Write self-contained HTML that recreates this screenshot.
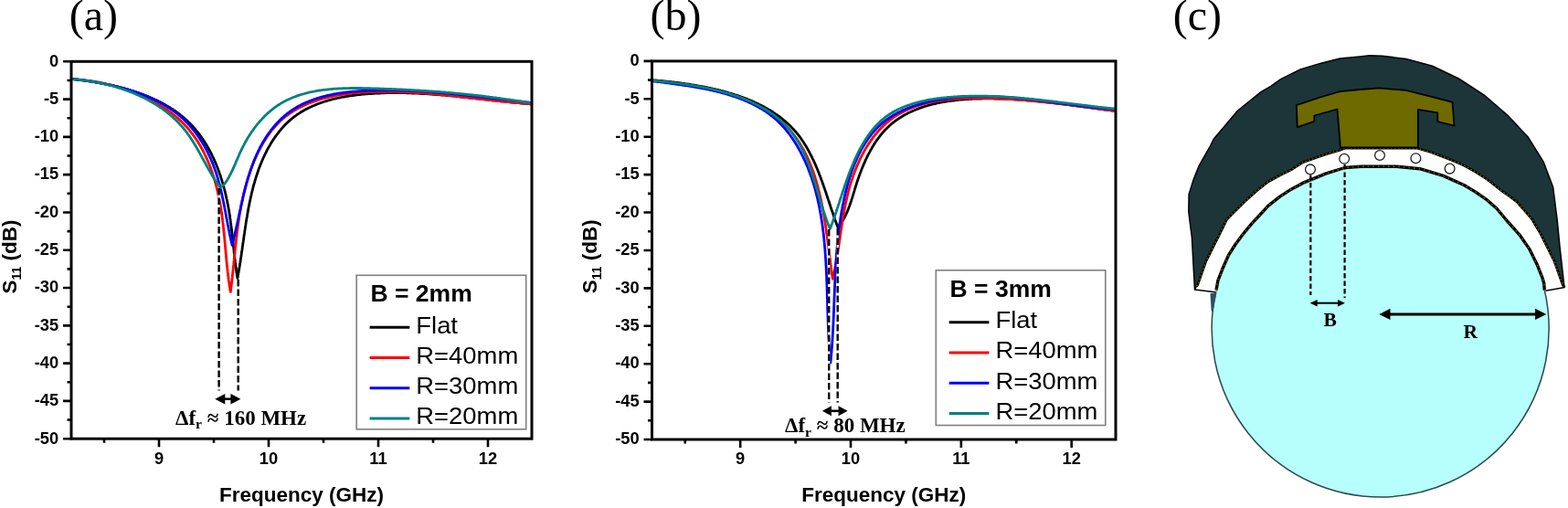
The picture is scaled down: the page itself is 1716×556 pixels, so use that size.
<!DOCTYPE html>
<html><head><meta charset="utf-8"><title>S11 curves</title>
<style>html,body{margin:0;padding:0;background:#fff;}body{width:1716px;height:556px;overflow:hidden;}svg{display:block;}</style>
</head><body>
<svg width="1716" height="556" viewBox="0 0 1716 556">
<rect width="1716" height="556" fill="#fff"/>
<g font-family='"Liberation Serif", "Times New Roman", serif' font-size="48" fill="#000"><text x="75.8" y="33">(a)</text><text x="711.6" y="33">(b)</text><text x="1283.7" y="33">(c)</text></g>
<clipPath id="clipa"><rect x="78.0" y="67.3" width="504.0" height="412.9"/></clipPath>
<g clip-path="url(#clipa)" fill="none" stroke-width="2.8" stroke-linejoin="round" stroke-linecap="round">
<path stroke="#000000" d="M78.0 86.5 L79.0 86.6 L80.0 86.7 L81.0 86.8 L82.0 86.9 L83.1 87.0 L84.1 87.1 L85.1 87.3 L86.2 87.4 L87.2 87.5 L88.2 87.6 L89.3 87.8 L90.3 87.9 L91.3 88.0 L92.4 88.2 L93.4 88.3 L94.5 88.5 L95.5 88.6 L96.6 88.7 L97.6 88.9 L98.7 89.1 L99.8 89.2 L100.8 89.4 L101.9 89.6 L103.0 89.7 L104.0 89.9 L105.1 90.1 L106.2 90.3 L107.2 90.4 L108.3 90.6 L109.4 90.8 L110.4 91.0 L111.5 91.2 L112.6 91.4 L113.7 91.6 L114.7 91.8 L115.8 92.1 L116.9 92.3 L118.0 92.5 L119.1 92.7 L120.1 93.0 L121.2 93.2 L122.3 93.4 L123.4 93.7 L124.5 93.9 L125.5 94.2 L126.6 94.4 L127.7 94.7 L128.8 94.9 L129.8 95.2 L130.9 95.5 L132.0 95.8 L133.1 96.0 L134.1 96.3 L135.2 96.6 L136.3 96.9 L137.3 97.2 L138.4 97.5 L139.5 97.8 L140.5 98.1 L141.6 98.4 L142.7 98.8 L143.7 99.1 L144.8 99.4 L145.8 99.8 L146.9 100.1 L148.0 100.5 L149.0 100.8 L150.1 101.2 L151.1 101.5 L152.1 101.9 L153.2 102.3 L154.2 102.6 L155.3 103.0 L156.3 103.4 L157.3 103.8 L158.3 104.2 L159.4 104.6 L160.4 105.0 L161.4 105.4 L162.4 105.8 L163.4 106.2 L164.4 106.7 L165.4 107.1 L166.4 107.6 L167.4 108.0 L168.4 108.4 L169.4 108.9 L170.4 109.4 L171.4 109.8 L172.4 110.3 L173.3 110.8 L174.3 111.3 L175.3 111.8 L176.2 112.3 L177.2 112.8 L178.1 113.3 L179.1 113.8 L180.0 114.3 L181.0 114.8 L181.9 115.4 L182.8 115.9 L183.7 116.4 L184.7 117.0 L185.6 117.5 L186.5 118.1 L187.4 118.7 L188.3 119.3 L189.2 119.8 L190.0 120.4 L190.9 121.0 L191.8 121.6 L192.6 122.2 L193.5 122.8 L194.4 123.5 L195.2 124.1 L196.0 124.7 L196.9 125.4 L197.7 126.0 L198.5 126.7 L199.3 127.3 L200.1 128.0 L200.9 128.7 L201.7 129.3 L202.5 130.0 L203.3 130.7 L204.1 131.4 L204.8 132.1 L205.6 132.9 L206.3 133.6 L207.1 134.3 L207.8 135.0 L208.5 135.8 L209.3 136.5 L210.0 137.3 L210.7 138.0 L211.4 138.8 L212.1 139.6 L212.8 140.4 L213.4 141.2 L214.1 142.0 L214.8 142.7 L215.4 143.6 L216.1 144.4 L216.7 145.2 L217.4 146.0 L218.0 146.8 L218.6 147.7 L219.2 148.5 L219.8 149.3 L220.5 150.2 L221.1 151.1 L221.6 151.9 L222.2 152.8 L222.8 153.7 L223.4 154.5 L224.0 155.4 L224.5 156.3 L225.1 157.2 L225.6 158.1 L226.2 159.0 L226.7 159.9 L227.2 160.8 L227.7 161.7 L228.3 162.6 L228.8 163.6 L229.3 164.5 L229.8 165.4 L230.3 166.4 L230.8 167.3 L231.2 168.3 L231.7 169.2 L232.2 170.2 L232.6 171.1 L233.1 172.1 L233.6 173.1 L234.0 174.0 L234.4 175.0 L234.9 176.0 L235.3 177.0 L235.7 178.0 L236.2 178.9 L236.6 179.9 L237.0 180.9 L237.4 181.9 L237.8 182.9 L238.2 183.9 L238.6 185.0 L238.9 186.0 L239.3 187.0 L239.7 188.0 L240.0 189.0 L240.4 190.1 L240.8 191.1 L241.1 192.1 L241.5 193.2 L241.8 194.2 L242.1 195.2 L242.5 196.3 L242.8 197.3 L243.1 198.4 L243.4 199.4 L243.7 200.5 L244.0 201.5 L244.3 202.6 L244.6 203.6 L244.9 204.7 L245.2 205.8 L245.5 206.8 L245.8 207.9 L246.0 208.9 L246.3 210.0 L246.6 211.1 L246.8 212.2 L247.1 213.2 L247.3 214.3 L247.6 215.4 L247.8 216.5 L248.0 217.5 L248.3 218.6 L248.5 219.7 L248.7 220.8 L248.9 221.9 L249.2 223.0 L249.4 224.1 L249.6 225.1 L249.8 226.2 L250.0 227.3 L250.2 228.4 L250.4 229.5 L250.5 230.6 L250.7 231.7 L250.9 232.8 L251.1 233.9 L251.3 235.0 L251.4 236.1 L251.6 237.1 L251.7 238.2 L251.9 239.3 L252.1 240.4 L252.2 241.5 L252.4 242.6 L252.5 243.7 L252.7 244.8 L252.8 245.9 L252.9 247.0 L253.1 248.1 L253.2 249.2 L253.4 250.3 L253.5 251.4 L253.6 252.5 L253.7 253.6 L253.9 254.7 L254.0 255.7 L254.1 256.8 L254.2 257.9 L254.4 259.0 L254.5 260.1 L254.6 261.2 L254.7 262.3 L254.8 263.4 L255.0 264.5 L255.1 265.5 L255.2 266.6 L255.3 267.7 L255.4 268.8 L255.5 269.9 L255.7 271.0 L255.8 272.0 L255.9 273.1 L256.0 274.2 L256.1 275.3 L256.2 276.3 L256.3 277.4 L256.5 278.5 L256.6 279.5 L256.7 280.6 L256.8 281.7 L256.9 282.7 L257.1 283.8 L257.2 284.9 L257.3 285.9 L257.4 287.0 L257.6 288.0 L257.7 289.1 L257.8 290.1 L258.0 291.2 L258.1 292.2 L258.2 293.3 L258.4 294.3 L258.5 295.4 L258.7 296.4 L258.8 297.4 L258.9 298.5 L259.1 299.5 L259.3 300.5 L259.4 301.5 L259.6 302.6 L259.7 303.6 L259.9 304.6 L260.2 303.2 L260.4 301.8 L260.7 300.3 L260.9 298.9 L261.2 297.5 L261.4 296.0 L261.7 294.6 L261.9 293.1 L262.2 291.7 L262.4 290.2 L262.6 288.7 L262.9 287.3 L263.1 285.8 L263.3 284.3 L263.5 282.8 L263.8 281.3 L264.0 279.8 L264.2 278.3 L264.4 276.8 L264.6 275.3 L264.9 273.8 L265.1 272.3 L265.3 270.8 L265.5 269.2 L265.7 267.7 L265.9 266.2 L266.2 264.7 L266.4 263.1 L266.6 261.6 L266.8 260.1 L267.0 258.5 L267.2 257.0 L267.5 255.5 L267.7 253.9 L267.9 252.4 L268.2 250.8 L268.4 249.3 L268.6 247.7 L268.9 246.2 L269.1 244.6 L269.3 243.1 L269.6 241.6 L269.8 240.0 L270.1 238.5 L270.4 236.9 L270.6 235.4 L270.9 233.8 L271.2 232.3 L271.4 230.7 L271.7 229.2 L272.0 227.6 L272.3 226.1 L272.6 224.5 L272.9 223.0 L273.2 221.5 L273.6 219.9 L273.9 218.4 L274.2 216.9 L274.5 215.3 L274.9 213.8 L275.2 212.3 L275.6 210.7 L276.0 209.2 L276.4 207.7 L276.7 206.2 L277.1 204.7 L277.5 203.2 L277.9 201.7 L278.4 200.2 L278.8 198.7 L279.2 197.2 L279.7 195.7 L280.1 194.2 L280.6 192.7 L281.1 191.2 L281.6 189.8 L282.1 188.3 L282.6 186.8 L283.1 185.4 L283.6 183.9 L284.2 182.5 L284.7 181.0 L285.3 179.6 L285.9 178.2 L286.5 176.7 L287.1 175.3 L287.7 173.9 L288.3 172.5 L289.0 171.1 L289.6 169.7 L290.3 168.3 L291.0 167.0 L291.7 165.6 L292.4 164.2 L293.1 162.9 L293.8 161.5 L294.6 160.2 L295.4 158.9 L296.1 157.6 L296.9 156.3 L297.7 155.0 L298.5 153.7 L299.4 152.4 L300.2 151.2 L301.1 149.9 L302.0 148.7 L302.8 147.5 L303.8 146.3 L304.7 145.1 L305.6 143.9 L306.5 142.8 L307.5 141.6 L308.5 140.5 L309.5 139.4 L310.5 138.3 L311.5 137.2 L312.5 136.1 L313.6 135.1 L314.6 134.1 L315.7 133.1 L316.8 132.1 L317.9 131.1 L319.0 130.2 L320.2 129.2 L321.3 128.3 L322.5 127.4 L323.7 126.6 L324.9 125.7 L326.1 124.9 L327.3 124.1 L328.5 123.3 L329.8 122.5 L331.0 121.8 L332.3 121.0 L333.6 120.3 L334.9 119.6 L336.2 118.9 L337.5 118.2 L338.9 117.6 L340.2 117.0 L341.6 116.3 L342.9 115.7 L344.3 115.2 L345.7 114.6 L347.1 114.0 L348.5 113.5 L349.9 113.0 L351.3 112.5 L352.8 112.0 L354.2 111.5 L355.7 111.0 L357.1 110.6 L358.6 110.2 L360.0 109.7 L361.5 109.3 L363.0 108.9 L364.5 108.5 L366.0 108.2 L367.5 107.8 L369.0 107.5 L370.5 107.2 L372.1 106.8 L373.6 106.5 L375.1 106.2 L376.6 106.0 L378.2 105.7 L379.7 105.4 L381.3 105.2 L382.8 104.9 L384.4 104.7 L385.9 104.5 L387.5 104.3 L389.1 104.1 L390.6 103.9 L392.2 103.7 L393.8 103.5 L395.3 103.4 L396.9 103.2 L398.5 103.1 L400.0 102.9 L401.6 102.8 L403.2 102.7 L404.7 102.6 L406.3 102.5 L407.9 102.4 L409.4 102.3 L411.0 102.2 L412.6 102.1 L414.1 102.0 L415.7 102.0 L417.3 101.9 L418.8 101.8 L420.4 101.8 L421.9 101.7 L423.5 101.7 L425.0 101.7 L426.6 101.7 L428.1 101.6 L429.7 101.6 L431.2 101.6 L432.8 101.6 L434.3 101.6 L435.9 101.6 L437.4 101.6 L439.0 101.7 L440.5 101.7 L442.0 101.7 L443.6 101.7 L445.1 101.8 L446.6 101.8 L448.2 101.9 L449.7 101.9 L451.2 102.0 L452.8 102.0 L454.3 102.1 L455.8 102.2 L457.4 102.2 L458.9 102.3 L460.4 102.4 L461.9 102.5 L463.5 102.5 L465.0 102.6 L466.5 102.7 L468.0 102.8 L469.6 102.9 L471.1 103.0 L472.6 103.1 L474.1 103.3 L475.6 103.4 L477.2 103.5 L478.7 103.6 L480.2 103.7 L481.7 103.9 L483.2 104.0 L484.7 104.1 L486.3 104.2 L487.8 104.4 L489.3 104.5 L490.8 104.7 L492.3 104.8 L493.8 104.9 L495.3 105.1 L496.9 105.2 L498.4 105.4 L499.9 105.5 L501.4 105.7 L502.9 105.8 L504.4 106.0 L505.9 106.2 L507.4 106.3 L509.0 106.5 L510.5 106.6 L512.0 106.8 L513.5 107.0 L515.0 107.1 L516.5 107.3 L518.0 107.4 L519.5 107.6 L521.1 107.8 L522.6 107.9 L524.1 108.1 L525.6 108.3 L527.1 108.4 L528.6 108.6 L530.1 108.8 L531.7 108.9 L533.2 109.1 L534.7 109.3 L536.2 109.4 L537.7 109.6 L539.2 109.8 L540.8 109.9 L542.3 110.1 L543.8 110.3 L545.3 110.4 L546.8 110.6 L548.3 110.8 L549.9 110.9 L551.4 111.1 L552.9 111.2 L554.4 111.4 L556.0 111.6 L557.5 111.7 L559.0 111.9 L560.5 112.0 L562.1 112.2 L563.6 112.3 L565.1 112.5 L566.6 112.6 L568.2 112.7 L569.7 112.9 L571.2 113.0 L572.8 113.1 L574.3 113.3 L575.8 113.4 L577.4 113.5 L578.9 113.7 L580.5 113.8 L582.0 113.9"/>
<path stroke="#ff0000" d="M78.0 86.5 L79.1 86.6 L80.1 86.6 L81.2 86.7 L82.3 86.8 L83.4 86.9 L84.4 86.9 L85.5 87.0 L86.6 87.1 L87.7 87.2 L88.8 87.3 L89.8 87.5 L90.9 87.6 L92.0 87.7 L93.1 87.8 L94.2 88.0 L95.3 88.1 L96.4 88.3 L97.5 88.4 L98.6 88.6 L99.7 88.7 L100.8 88.9 L101.9 89.1 L103.0 89.2 L104.1 89.4 L105.2 89.6 L106.3 89.8 L107.4 90.0 L108.5 90.2 L109.6 90.4 L110.7 90.7 L111.8 90.9 L112.9 91.1 L113.9 91.3 L115.0 91.6 L116.1 91.8 L117.2 92.1 L118.3 92.3 L119.4 92.6 L120.5 92.9 L121.6 93.1 L122.7 93.4 L123.8 93.7 L124.9 94.0 L126.0 94.3 L127.1 94.6 L128.2 94.9 L129.3 95.2 L130.3 95.5 L131.4 95.8 L132.5 96.2 L133.6 96.5 L134.7 96.8 L135.7 97.2 L136.8 97.5 L137.9 97.9 L138.9 98.2 L140.0 98.6 L141.1 99.0 L142.1 99.4 L143.2 99.8 L144.3 100.2 L145.3 100.5 L146.4 101.0 L147.4 101.4 L148.5 101.8 L149.5 102.2 L150.6 102.6 L151.6 103.1 L152.6 103.5 L153.7 103.9 L154.7 104.4 L155.7 104.8 L156.7 105.3 L157.7 105.8 L158.8 106.2 L159.8 106.7 L160.8 107.2 L161.8 107.7 L162.8 108.2 L163.8 108.7 L164.8 109.2 L165.8 109.7 L166.7 110.2 L167.7 110.8 L168.7 111.3 L169.7 111.8 L170.6 112.4 L171.6 112.9 L172.5 113.5 L173.5 114.1 L174.4 114.6 L175.4 115.2 L176.3 115.8 L177.2 116.4 L178.2 117.0 L179.1 117.6 L180.0 118.2 L180.9 118.8 L181.8 119.4 L182.7 120.0 L183.6 120.7 L184.5 121.3 L185.4 121.9 L186.2 122.6 L187.1 123.2 L188.0 123.9 L188.8 124.6 L189.7 125.2 L190.5 125.9 L191.3 126.6 L192.2 127.3 L193.0 128.0 L193.8 128.7 L194.6 129.4 L195.4 130.1 L196.2 130.9 L197.0 131.6 L197.8 132.3 L198.6 133.1 L199.3 133.8 L200.1 134.6 L200.8 135.3 L201.6 136.1 L202.3 136.9 L203.1 137.7 L203.8 138.4 L204.5 139.2 L205.2 140.0 L205.9 140.8 L206.6 141.7 L207.3 142.5 L207.9 143.3 L208.6 144.1 L209.3 145.0 L209.9 145.8 L210.6 146.7 L211.2 147.5 L211.8 148.4 L212.5 149.2 L213.1 150.1 L213.7 151.0 L214.3 151.9 L214.9 152.7 L215.5 153.6 L216.1 154.5 L216.6 155.4 L217.2 156.3 L217.7 157.3 L218.3 158.2 L218.8 159.1 L219.4 160.0 L219.9 161.0 L220.4 161.9 L221.0 162.8 L221.5 163.8 L222.0 164.7 L222.5 165.7 L223.0 166.7 L223.5 167.6 L223.9 168.6 L224.4 169.6 L224.9 170.5 L225.3 171.5 L225.8 172.5 L226.2 173.5 L226.7 174.5 L227.1 175.5 L227.5 176.5 L228.0 177.5 L228.4 178.5 L228.8 179.5 L229.2 180.5 L229.6 181.6 L230.0 182.6 L230.4 183.6 L230.8 184.7 L231.1 185.7 L231.5 186.7 L231.9 187.8 L232.2 188.8 L232.6 189.9 L232.9 190.9 L233.3 192.0 L233.6 193.0 L233.9 194.1 L234.3 195.1 L234.6 196.2 L234.9 197.3 L235.2 198.3 L235.5 199.4 L235.8 200.5 L236.1 201.6 L236.4 202.6 L236.7 203.7 L237.0 204.8 L237.2 205.9 L237.5 207.0 L237.8 208.1 L238.0 209.2 L238.3 210.3 L238.5 211.4 L238.8 212.5 L239.0 213.6 L239.3 214.7 L239.5 215.8 L239.7 216.9 L239.9 218.0 L240.2 219.1 L240.4 220.2 L240.6 221.3 L240.8 222.4 L241.0 223.5 L241.2 224.6 L241.4 225.8 L241.6 226.9 L241.7 228.0 L241.9 229.1 L242.1 230.2 L242.3 231.3 L242.4 232.5 L242.6 233.6 L242.8 234.7 L242.9 235.8 L243.1 236.9 L243.2 238.1 L243.4 239.2 L243.5 240.3 L243.6 241.4 L243.8 242.6 L243.9 243.7 L244.1 244.8 L244.2 246.0 L244.3 247.1 L244.4 248.2 L244.6 249.3 L244.7 250.5 L244.8 251.6 L244.9 252.7 L245.0 253.8 L245.1 255.0 L245.3 256.1 L245.4 257.2 L245.5 258.3 L245.6 259.5 L245.7 260.6 L245.8 261.7 L245.9 262.8 L246.0 264.0 L246.1 265.1 L246.2 266.2 L246.3 267.3 L246.4 268.5 L246.5 269.6 L246.6 270.7 L246.7 271.8 L246.8 272.9 L246.9 274.0 L247.0 275.2 L247.1 276.3 L247.2 277.4 L247.3 278.5 L247.4 279.6 L247.5 280.7 L247.6 281.8 L247.7 282.9 L247.8 284.0 L247.9 285.2 L248.0 286.3 L248.1 287.4 L248.2 288.5 L248.3 289.6 L248.4 290.7 L248.5 291.8 L248.7 292.8 L248.8 293.9 L248.9 295.0 L249.0 296.1 L249.1 297.2 L249.3 298.3 L249.4 299.4 L249.5 300.5 L249.6 301.5 L249.8 302.6 L249.9 303.7 L250.0 304.8 L250.2 305.8 L250.3 306.9 L250.5 308.0 L250.6 309.0 L250.8 310.1 L250.9 311.1 L251.1 312.2 L251.2 313.2 L251.4 314.3 L251.6 315.3 L251.8 316.4 L251.9 317.4 L252.1 318.5 L252.3 319.5 L252.5 318.0 L252.7 316.4 L252.9 314.9 L253.1 313.3 L253.3 311.8 L253.5 310.2 L253.6 308.6 L253.8 307.1 L254.0 305.5 L254.2 303.9 L254.3 302.4 L254.5 300.8 L254.7 299.2 L254.9 297.6 L255.0 296.0 L255.2 294.4 L255.3 292.9 L255.5 291.3 L255.7 289.7 L255.8 288.1 L256.0 286.5 L256.2 284.9 L256.3 283.3 L256.5 281.7 L256.6 280.1 L256.8 278.5 L257.0 276.9 L257.1 275.2 L257.3 273.6 L257.5 272.0 L257.6 270.4 L257.8 268.8 L258.0 267.2 L258.2 265.6 L258.3 264.0 L258.5 262.3 L258.7 260.7 L258.9 259.1 L259.1 257.5 L259.3 255.9 L259.5 254.3 L259.7 252.6 L259.9 251.0 L260.1 249.4 L260.3 247.8 L260.5 246.2 L260.8 244.5 L261.0 242.9 L261.2 241.3 L261.5 239.7 L261.7 238.1 L262.0 236.5 L262.2 234.8 L262.5 233.2 L262.8 231.6 L263.1 230.0 L263.3 228.4 L263.6 226.8 L263.9 225.2 L264.2 223.6 L264.6 222.0 L264.9 220.4 L265.2 218.8 L265.6 217.2 L265.9 215.6 L266.3 214.0 L266.6 212.4 L267.0 210.8 L267.4 209.2 L267.8 207.6 L268.2 206.0 L268.6 204.4 L269.0 202.9 L269.5 201.3 L269.9 199.7 L270.4 198.1 L270.8 196.6 L271.3 195.0 L271.8 193.4 L272.3 191.9 L272.8 190.3 L273.3 188.8 L273.9 187.2 L274.4 185.7 L275.0 184.1 L275.6 182.6 L276.2 181.1 L276.8 179.5 L277.4 178.0 L278.0 176.5 L278.6 175.0 L279.3 173.5 L280.0 172.0 L280.6 170.5 L281.3 169.0 L282.0 167.5 L282.8 166.1 L283.5 164.6 L284.2 163.1 L285.0 161.7 L285.8 160.3 L286.6 158.9 L287.4 157.5 L288.2 156.1 L289.0 154.7 L289.9 153.3 L290.8 152.0 L291.6 150.6 L292.5 149.3 L293.5 148.0 L294.4 146.7 L295.3 145.4 L296.3 144.2 L297.2 142.9 L298.2 141.7 L299.2 140.5 L300.3 139.3 L301.3 138.1 L302.4 137.0 L303.4 135.8 L304.5 134.7 L305.6 133.6 L306.7 132.5 L307.9 131.5 L309.0 130.5 L310.2 129.5 L311.4 128.5 L312.6 127.5 L313.8 126.6 L315.0 125.7 L316.3 124.8 L317.5 123.9 L318.8 123.0 L320.1 122.2 L321.4 121.4 L322.7 120.6 L324.0 119.8 L325.4 119.0 L326.7 118.3 L328.1 117.6 L329.5 116.9 L330.9 116.2 L332.3 115.5 L333.7 114.9 L335.1 114.2 L336.6 113.6 L338.0 113.0 L339.5 112.5 L341.0 111.9 L342.4 111.3 L343.9 110.8 L345.4 110.3 L346.9 109.8 L348.5 109.3 L350.0 108.9 L351.5 108.4 L353.1 108.0 L354.6 107.6 L356.2 107.2 L357.7 106.8 L359.3 106.4 L360.9 106.0 L362.5 105.7 L364.1 105.3 L365.7 105.0 L367.3 104.7 L368.9 104.4 L370.5 104.1 L372.1 103.8 L373.7 103.6 L375.4 103.3 L377.0 103.1 L378.6 102.9 L380.3 102.7 L381.9 102.5 L383.6 102.3 L385.2 102.1 L386.9 101.9 L388.5 101.7 L390.2 101.6 L391.8 101.4 L393.5 101.3 L395.1 101.2 L396.8 101.1 L398.4 101.0 L400.1 100.9 L401.8 100.8 L403.4 100.7 L405.1 100.6 L406.7 100.6 L408.4 100.5 L410.0 100.4 L411.7 100.4 L413.3 100.4 L415.0 100.3 L416.6 100.3 L418.3 100.3 L419.9 100.3 L421.5 100.3 L423.2 100.3 L424.8 100.3 L426.4 100.3 L428.1 100.3 L429.7 100.3 L431.3 100.3 L433.0 100.4 L434.6 100.4 L436.2 100.5 L437.8 100.5 L439.4 100.6 L441.1 100.6 L442.7 100.7 L444.3 100.8 L445.9 100.8 L447.5 100.9 L449.1 101.0 L450.8 101.1 L452.4 101.2 L454.0 101.3 L455.6 101.4 L457.2 101.5 L458.8 101.6 L460.4 101.7 L462.0 101.8 L463.6 101.9 L465.2 102.0 L466.8 102.2 L468.4 102.3 L470.0 102.4 L471.6 102.6 L473.2 102.7 L474.8 102.9 L476.4 103.0 L478.0 103.1 L479.6 103.3 L481.2 103.4 L482.8 103.6 L484.4 103.8 L486.0 103.9 L487.5 104.1 L489.1 104.2 L490.7 104.4 L492.3 104.6 L493.9 104.7 L495.5 104.9 L497.1 105.1 L498.7 105.3 L500.3 105.4 L501.9 105.6 L503.5 105.8 L505.0 106.0 L506.6 106.1 L508.2 106.3 L509.8 106.5 L511.4 106.7 L513.0 106.9 L514.6 107.1 L516.2 107.2 L517.8 107.4 L519.4 107.6 L521.0 107.8 L522.5 108.0 L524.1 108.2 L525.7 108.3 L527.3 108.5 L528.9 108.7 L530.5 108.9 L532.1 109.1 L533.7 109.3 L535.3 109.4 L536.9 109.6 L538.5 109.8 L540.1 110.0 L541.7 110.2 L543.3 110.3 L544.9 110.5 L546.5 110.7 L548.1 110.8 L549.7 111.0 L551.3 111.2 L552.9 111.4 L554.5 111.5 L556.1 111.7 L557.7 111.8 L559.3 112.0 L560.9 112.1 L562.6 112.3 L564.2 112.4 L565.8 112.6 L567.4 112.7 L569.0 112.9 L570.6 113.0 L572.3 113.2 L573.9 113.3 L575.5 113.4 L577.1 113.5 L578.7 113.7 L580.4 113.8 L582.0 113.9"/>
<path stroke="#0000ff" d="M78.0 86.3 L78.9 86.4 L79.8 86.5 L80.7 86.6 L81.6 86.7 L82.5 86.8 L83.4 86.9 L84.3 87.0 L85.2 87.1 L86.1 87.3 L87.0 87.4 L87.9 87.5 L88.8 87.6 L89.7 87.7 L90.7 87.8 L91.6 88.0 L92.5 88.1 L93.4 88.2 L94.3 88.4 L95.3 88.5 L96.2 88.6 L97.1 88.8 L98.1 88.9 L99.0 89.1 L99.9 89.2 L100.9 89.3 L101.8 89.5 L102.7 89.7 L103.7 89.8 L104.6 90.0 L105.6 90.1 L106.5 90.3 L107.5 90.5 L108.4 90.6 L109.3 90.8 L110.3 91.0 L111.2 91.1 L112.2 91.3 L113.1 91.5 L114.1 91.7 L115.0 91.9 L116.0 92.1 L116.9 92.3 L117.9 92.5 L118.8 92.7 L119.8 92.9 L120.7 93.1 L121.7 93.3 L122.6 93.5 L123.6 93.7 L124.5 93.9 L125.5 94.2 L126.4 94.4 L127.4 94.6 L128.3 94.8 L129.3 95.1 L130.2 95.3 L131.1 95.6 L132.1 95.8 L133.0 96.0 L134.0 96.3 L134.9 96.6 L135.9 96.8 L136.8 97.1 L137.7 97.3 L138.7 97.6 L139.6 97.9 L140.5 98.2 L141.5 98.4 L142.4 98.7 L143.3 99.0 L144.3 99.3 L145.2 99.6 L146.1 99.9 L147.0 100.2 L148.0 100.5 L148.9 100.8 L149.8 101.2 L150.7 101.5 L151.6 101.8 L152.5 102.1 L153.4 102.5 L154.3 102.8 L155.3 103.1 L156.2 103.5 L157.1 103.8 L158.0 104.2 L158.8 104.6 L159.7 104.9 L160.6 105.3 L161.5 105.7 L162.4 106.0 L163.3 106.4 L164.2 106.8 L165.0 107.2 L165.9 107.6 L166.8 108.0 L167.6 108.4 L168.5 108.8 L169.3 109.2 L170.2 109.6 L171.1 110.0 L171.9 110.5 L172.7 110.9 L173.6 111.3 L174.4 111.8 L175.3 112.2 L176.1 112.7 L176.9 113.1 L177.7 113.6 L178.5 114.1 L179.4 114.5 L180.2 115.0 L181.0 115.5 L181.8 116.0 L182.6 116.5 L183.4 117.0 L184.1 117.5 L184.9 118.0 L185.7 118.5 L186.5 119.0 L187.2 119.5 L188.0 120.1 L188.8 120.6 L189.5 121.1 L190.3 121.7 L191.0 122.2 L191.8 122.8 L192.5 123.4 L193.2 123.9 L193.9 124.5 L194.7 125.1 L195.4 125.7 L196.1 126.3 L196.8 126.8 L197.5 127.4 L198.2 128.1 L198.8 128.7 L199.5 129.3 L200.2 129.9 L200.9 130.5 L201.5 131.2 L202.2 131.8 L202.8 132.5 L203.5 133.1 L204.1 133.8 L204.8 134.4 L205.4 135.1 L206.0 135.7 L206.7 136.4 L207.3 137.1 L207.9 137.8 L208.5 138.5 L209.1 139.2 L209.7 139.9 L210.3 140.6 L210.9 141.3 L211.4 142.0 L212.0 142.7 L212.6 143.4 L213.2 144.1 L213.7 144.9 L214.3 145.6 L214.8 146.4 L215.4 147.1 L215.9 147.8 L216.4 148.6 L217.0 149.3 L217.5 150.1 L218.0 150.9 L218.5 151.6 L219.0 152.4 L219.6 153.2 L220.1 154.0 L220.5 154.8 L221.0 155.5 L221.5 156.3 L222.0 157.1 L222.5 157.9 L223.0 158.7 L223.4 159.5 L223.9 160.4 L224.3 161.2 L224.8 162.0 L225.2 162.8 L225.7 163.6 L226.1 164.5 L226.5 165.3 L227.0 166.1 L227.4 167.0 L227.8 167.8 L228.2 168.7 L228.6 169.5 L229.0 170.4 L229.4 171.2 L229.8 172.1 L230.2 172.9 L230.6 173.8 L231.0 174.7 L231.3 175.5 L231.7 176.4 L232.1 177.3 L232.4 178.2 L232.8 179.0 L233.1 179.9 L233.5 180.8 L233.8 181.7 L234.1 182.6 L234.5 183.5 L234.8 184.4 L235.1 185.3 L235.4 186.2 L235.8 187.1 L236.1 188.0 L236.4 188.9 L236.7 189.8 L237.0 190.7 L237.2 191.7 L237.5 192.6 L237.8 193.5 L238.1 194.4 L238.4 195.3 L238.6 196.3 L238.9 197.2 L239.2 198.1 L239.4 199.1 L239.7 200.0 L239.9 200.9 L240.2 201.9 L240.4 202.8 L240.7 203.7 L240.9 204.7 L241.1 205.6 L241.4 206.6 L241.6 207.5 L241.8 208.4 L242.0 209.4 L242.3 210.3 L242.5 211.3 L242.7 212.2 L242.9 213.2 L243.1 214.1 L243.3 215.1 L243.5 216.0 L243.7 217.0 L243.9 217.9 L244.1 218.9 L244.3 219.8 L244.5 220.8 L244.7 221.7 L244.9 222.7 L245.1 223.7 L245.3 224.6 L245.5 225.6 L245.7 226.5 L245.8 227.5 L246.0 228.4 L246.2 229.4 L246.4 230.3 L246.6 231.3 L246.8 232.2 L246.9 233.2 L247.1 234.1 L247.3 235.1 L247.5 236.0 L247.6 237.0 L247.8 237.9 L248.0 238.9 L248.2 239.8 L248.4 240.8 L248.5 241.7 L248.7 242.6 L248.9 243.6 L249.1 244.5 L249.2 245.5 L249.4 246.4 L249.6 247.3 L249.8 248.3 L250.0 249.2 L250.1 250.1 L250.3 251.1 L250.5 252.0 L250.7 252.9 L250.9 253.8 L251.0 254.8 L251.2 255.7 L251.4 256.6 L251.6 257.5 L251.8 258.4 L252.0 259.3 L252.2 260.2 L252.4 261.1 L252.6 262.0 L252.8 262.9 L253.0 263.8 L253.2 264.7 L253.4 265.6 L253.6 266.5 L253.8 267.4 L254.0 268.3 L254.3 267.0 L254.7 265.7 L255.0 264.4 L255.4 263.1 L255.7 261.7 L256.0 260.4 L256.3 259.1 L256.7 257.7 L257.0 256.4 L257.3 255.0 L257.6 253.6 L257.9 252.3 L258.2 250.9 L258.5 249.5 L258.8 248.1 L259.2 246.7 L259.5 245.3 L259.8 243.9 L260.1 242.5 L260.4 241.1 L260.7 239.7 L261.0 238.3 L261.3 236.8 L261.6 235.4 L261.9 234.0 L262.2 232.6 L262.5 231.1 L262.9 229.7 L263.2 228.2 L263.5 226.8 L263.8 225.4 L264.1 223.9 L264.5 222.5 L264.8 221.0 L265.1 219.6 L265.5 218.1 L265.8 216.7 L266.1 215.2 L266.5 213.8 L266.8 212.3 L267.2 210.9 L267.6 209.4 L267.9 208.0 L268.3 206.5 L268.7 205.1 L269.1 203.6 L269.4 202.2 L269.8 200.7 L270.2 199.3 L270.7 197.9 L271.1 196.4 L271.5 195.0 L271.9 193.6 L272.4 192.1 L272.8 190.7 L273.3 189.3 L273.7 187.9 L274.2 186.5 L274.7 185.1 L275.2 183.7 L275.6 182.3 L276.2 180.9 L276.7 179.5 L277.2 178.1 L277.7 176.7 L278.3 175.3 L278.8 174.0 L279.4 172.6 L280.0 171.3 L280.6 169.9 L281.2 168.6 L281.8 167.3 L282.4 165.9 L283.0 164.6 L283.7 163.3 L284.3 162.0 L285.0 160.7 L285.7 159.4 L286.4 158.2 L287.1 156.9 L287.8 155.6 L288.6 154.4 L289.3 153.2 L290.1 151.9 L290.8 150.7 L291.6 149.5 L292.4 148.3 L293.2 147.1 L294.1 146.0 L294.9 144.8 L295.7 143.7 L296.6 142.5 L297.5 141.4 L298.4 140.3 L299.3 139.2 L300.2 138.1 L301.1 137.0 L302.0 136.0 L303.0 134.9 L303.9 133.9 L304.9 132.9 L305.9 131.9 L306.9 130.9 L307.9 129.9 L308.9 129.0 L310.0 128.0 L311.0 127.1 L312.1 126.2 L313.1 125.3 L314.2 124.4 L315.3 123.6 L316.4 122.8 L317.6 121.9 L318.7 121.1 L319.8 120.4 L321.0 119.6 L322.2 118.8 L323.4 118.1 L324.5 117.4 L325.7 116.7 L327.0 116.0 L328.2 115.4 L329.4 114.7 L330.7 114.1 L331.9 113.5 L333.2 112.9 L334.5 112.3 L335.8 111.8 L337.1 111.2 L338.4 110.7 L339.7 110.2 L341.0 109.7 L342.3 109.2 L343.7 108.7 L345.0 108.3 L346.4 107.8 L347.7 107.4 L349.1 107.0 L350.5 106.6 L351.9 106.2 L353.3 105.8 L354.7 105.4 L356.1 105.1 L357.5 104.7 L358.9 104.4 L360.3 104.1 L361.7 103.8 L363.2 103.5 L364.6 103.2 L366.0 102.9 L367.5 102.7 L368.9 102.4 L370.4 102.2 L371.9 102.0 L373.3 101.8 L374.8 101.5 L376.3 101.3 L377.7 101.2 L379.2 101.0 L380.7 100.8 L382.2 100.6 L383.6 100.5 L385.1 100.3 L386.6 100.2 L388.1 100.1 L389.6 100.0 L391.1 99.8 L392.6 99.7 L394.1 99.6 L395.6 99.5 L397.1 99.4 L398.6 99.4 L400.0 99.3 L401.5 99.2 L403.0 99.2 L404.5 99.1 L406.0 99.0 L407.5 99.0 L409.0 99.0 L410.5 98.9 L412.0 98.9 L413.4 98.9 L414.9 98.8 L416.4 98.8 L417.9 98.8 L419.4 98.8 L420.8 98.8 L422.3 98.8 L423.8 98.8 L425.2 98.8 L426.7 98.8 L428.2 98.8 L429.6 98.8 L431.1 98.8 L432.6 98.8 L434.0 98.9 L435.5 98.9 L436.9 98.9 L438.4 99.0 L439.8 99.0 L441.3 99.1 L442.7 99.1 L444.2 99.1 L445.6 99.2 L447.1 99.3 L448.5 99.3 L450.0 99.4 L451.4 99.4 L452.9 99.5 L454.3 99.6 L455.7 99.7 L457.2 99.7 L458.6 99.8 L460.1 99.9 L461.5 100.0 L462.9 100.1 L464.4 100.2 L465.8 100.3 L467.2 100.4 L468.7 100.5 L470.1 100.6 L471.5 100.7 L473.0 100.8 L474.4 100.9 L475.8 101.0 L477.2 101.1 L478.7 101.2 L480.1 101.4 L481.5 101.5 L483.0 101.6 L484.4 101.7 L485.8 101.8 L487.2 102.0 L488.7 102.1 L490.1 102.2 L491.5 102.4 L492.9 102.5 L494.3 102.6 L495.8 102.8 L497.2 102.9 L498.6 103.1 L500.0 103.2 L501.5 103.4 L502.9 103.5 L504.3 103.7 L505.7 103.8 L507.2 104.0 L508.6 104.1 L510.0 104.3 L511.4 104.4 L512.8 104.6 L514.3 104.7 L515.7 104.9 L517.1 105.1 L518.5 105.2 L520.0 105.4 L521.4 105.5 L522.8 105.7 L524.2 105.9 L525.7 106.0 L527.1 106.2 L528.5 106.4 L530.0 106.5 L531.4 106.7 L532.8 106.9 L534.2 107.0 L535.7 107.2 L537.1 107.4 L538.5 107.5 L540.0 107.7 L541.4 107.9 L542.8 108.0 L544.3 108.2 L545.7 108.4 L547.1 108.5 L548.6 108.7 L550.0 108.9 L551.5 109.1 L552.9 109.2 L554.3 109.4 L555.8 109.6 L557.2 109.7 L558.7 109.9 L560.1 110.1 L561.6 110.2 L563.0 110.4 L564.5 110.6 L565.9 110.7 L567.4 110.9 L568.8 111.1 L570.3 111.2 L571.8 111.4 L573.2 111.5 L574.7 111.7 L576.1 111.9 L577.6 112.0 L579.1 112.2 L580.5 112.3 L582.0 112.5"/>
<path stroke="#008080" d="M78.0 86.5 L78.7 86.6 L79.4 86.6 L80.1 86.7 L80.8 86.7 L81.5 86.8 L82.2 86.8 L82.9 86.9 L83.6 87.0 L84.4 87.0 L85.1 87.1 L85.8 87.2 L86.5 87.3 L87.2 87.3 L87.9 87.4 L88.6 87.5 L89.3 87.6 L90.0 87.7 L90.8 87.8 L91.5 87.8 L92.2 87.9 L92.9 88.0 L93.6 88.1 L94.3 88.2 L95.0 88.3 L95.7 88.4 L96.5 88.5 L97.2 88.6 L97.9 88.8 L98.6 88.9 L99.3 89.0 L100.0 89.1 L100.7 89.2 L101.4 89.3 L102.2 89.5 L102.9 89.6 L103.6 89.7 L104.3 89.8 L105.0 90.0 L105.7 90.1 L106.4 90.2 L107.2 90.4 L107.9 90.5 L108.6 90.7 L109.3 90.8 L110.0 91.0 L110.7 91.1 L111.4 91.3 L112.1 91.4 L112.8 91.6 L113.6 91.7 L114.3 91.9 L115.0 92.1 L115.7 92.2 L116.4 92.4 L117.1 92.6 L117.8 92.7 L118.5 92.9 L119.2 93.1 L119.9 93.3 L120.6 93.5 L121.3 93.6 L122.0 93.8 L122.7 94.0 L123.4 94.2 L124.1 94.4 L124.8 94.6 L125.5 94.8 L126.2 95.0 L126.9 95.2 L127.6 95.4 L128.3 95.6 L129.0 95.8 L129.7 96.1 L130.4 96.3 L131.1 96.5 L131.8 96.7 L132.5 96.9 L133.2 97.2 L133.9 97.4 L134.6 97.6 L135.3 97.9 L136.0 98.1 L136.6 98.3 L137.3 98.6 L138.0 98.8 L138.7 99.1 L139.4 99.3 L140.1 99.6 L140.7 99.8 L141.4 100.1 L142.1 100.3 L142.8 100.6 L143.5 100.9 L144.1 101.1 L144.8 101.4 L145.5 101.7 L146.1 102.0 L146.8 102.2 L147.5 102.5 L148.1 102.8 L148.8 103.1 L149.5 103.4 L150.1 103.7 L150.8 104.0 L151.5 104.3 L152.1 104.6 L152.8 104.9 L153.4 105.2 L154.1 105.5 L154.7 105.8 L155.4 106.1 L156.0 106.4 L156.7 106.7 L157.3 107.0 L158.0 107.4 L158.6 107.7 L159.3 108.0 L159.9 108.3 L160.5 108.7 L161.2 109.0 L161.8 109.3 L162.4 109.7 L163.1 110.0 L163.7 110.4 L164.3 110.7 L164.9 111.1 L165.6 111.4 L166.2 111.8 L166.8 112.2 L167.4 112.5 L168.0 112.9 L168.6 113.3 L169.2 113.6 L169.9 114.0 L170.5 114.4 L171.1 114.8 L171.7 115.1 L172.3 115.5 L172.9 115.9 L173.5 116.3 L174.1 116.7 L174.6 117.1 L175.2 117.5 L175.8 117.9 L176.4 118.3 L177.0 118.7 L177.6 119.1 L178.1 119.5 L178.7 120.0 L179.3 120.4 L179.9 120.8 L180.4 121.2 L181.0 121.7 L181.6 122.1 L182.1 122.5 L182.7 123.0 L183.2 123.4 L183.8 123.8 L184.3 124.3 L184.9 124.7 L185.4 125.2 L186.0 125.6 L186.5 126.1 L187.1 126.6 L187.6 127.0 L188.1 127.5 L188.7 128.0 L189.2 128.4 L189.7 128.9 L190.2 129.4 L190.7 129.9 L191.3 130.3 L191.8 130.8 L192.3 131.3 L192.8 131.8 L193.3 132.3 L193.8 132.8 L194.3 133.3 L194.8 133.8 L195.3 134.3 L195.8 134.8 L196.3 135.4 L196.8 135.9 L197.2 136.4 L197.7 136.9 L198.2 137.4 L198.7 138.0 L199.1 138.5 L199.6 139.0 L200.1 139.6 L200.5 140.1 L201.0 140.7 L201.4 141.2 L201.9 141.8 L202.3 142.3 L202.8 142.9 L203.2 143.5 L203.6 144.0 L204.1 144.6 L204.5 145.2 L204.9 145.7 L205.3 146.3 L205.8 146.9 L206.2 147.5 L206.6 148.0 L207.0 148.6 L207.4 149.2 L207.8 149.8 L208.2 150.4 L208.6 151.0 L209.0 151.6 L209.4 152.2 L209.8 152.8 L210.2 153.4 L210.6 154.0 L211.0 154.6 L211.4 155.3 L211.8 155.9 L212.1 156.5 L212.5 157.1 L212.9 157.7 L213.3 158.3 L213.6 159.0 L214.0 159.6 L214.4 160.2 L214.7 160.8 L215.1 161.5 L215.5 162.1 L215.8 162.7 L216.2 163.3 L216.6 164.0 L216.9 164.6 L217.3 165.2 L217.6 165.9 L218.0 166.5 L218.3 167.1 L218.7 167.8 L219.0 168.4 L219.4 169.1 L219.7 169.7 L220.1 170.3 L220.4 171.0 L220.8 171.6 L221.1 172.2 L221.5 172.9 L221.8 173.5 L222.2 174.1 L222.5 174.8 L222.9 175.4 L223.2 176.1 L223.6 176.7 L223.9 177.3 L224.3 178.0 L224.6 178.6 L225.0 179.2 L225.3 179.9 L225.7 180.5 L226.0 181.1 L226.3 181.7 L226.7 182.4 L227.0 183.0 L227.4 183.6 L227.7 184.2 L228.1 184.9 L228.4 185.5 L228.8 186.1 L229.2 186.7 L229.5 187.3 L229.9 188.0 L230.2 188.6 L230.6 189.2 L230.9 189.8 L231.3 190.4 L231.7 191.0 L232.0 191.6 L232.4 192.2 L232.7 192.8 L233.1 193.4 L233.5 194.0 L233.9 194.6 L234.2 195.2 L234.6 195.8 L235.0 196.4 L235.4 196.9 L235.7 197.5 L236.1 198.1 L236.5 198.7 L236.9 199.2 L237.3 199.8 L237.7 200.4 L238.1 200.9 L238.5 201.5 L238.9 202.0 L239.3 202.6 L239.7 203.1 L240.1 203.7 L240.5 204.2 L240.9 204.8 L241.3 205.3 L242.3 204.5 L243.3 203.7 L244.3 202.8 L245.1 201.9 L246.0 200.9 L246.7 199.9 L247.5 198.9 L248.2 197.8 L248.9 196.7 L249.5 195.6 L250.2 194.5 L250.8 193.3 L251.4 192.2 L252.0 191.0 L252.6 189.9 L253.1 188.7 L253.7 187.5 L254.3 186.4 L254.8 185.2 L255.4 184.0 L255.9 182.8 L256.4 181.6 L257.0 180.4 L257.5 179.2 L258.0 178.0 L258.5 176.8 L259.0 175.6 L259.6 174.4 L260.1 173.2 L260.6 172.0 L261.1 170.8 L261.7 169.5 L262.2 168.3 L262.7 167.1 L263.3 165.9 L263.9 164.7 L264.4 163.5 L265.0 162.3 L265.6 161.1 L266.2 159.9 L266.8 158.8 L267.4 157.6 L268.1 156.4 L268.7 155.2 L269.4 154.1 L270.0 152.9 L270.7 151.7 L271.4 150.6 L272.1 149.5 L272.8 148.3 L273.5 147.2 L274.3 146.1 L275.0 145.0 L275.8 143.9 L276.6 142.8 L277.3 141.7 L278.1 140.6 L278.9 139.5 L279.7 138.5 L280.5 137.4 L281.4 136.4 L282.2 135.4 L283.1 134.3 L283.9 133.3 L284.8 132.3 L285.7 131.4 L286.6 130.4 L287.5 129.4 L288.4 128.5 L289.3 127.5 L290.2 126.6 L291.2 125.7 L292.1 124.8 L293.1 123.9 L294.0 123.1 L295.0 122.2 L296.0 121.4 L297.0 120.6 L298.0 119.7 L299.0 119.0 L300.0 118.2 L301.1 117.4 L302.1 116.7 L303.1 115.9 L304.2 115.2 L305.3 114.5 L306.4 113.9 L307.4 113.2 L308.5 112.6 L309.6 111.9 L310.7 111.3 L311.9 110.7 L313.0 110.1 L314.1 109.6 L315.3 109.0 L316.4 108.5 L317.6 108.0 L318.7 107.5 L319.9 107.0 L321.1 106.5 L322.3 106.0 L323.5 105.6 L324.7 105.1 L325.9 104.7 L327.1 104.3 L328.3 103.9 L329.5 103.5 L330.7 103.2 L332.0 102.8 L333.2 102.5 L334.5 102.1 L335.7 101.8 L337.0 101.5 L338.2 101.2 L339.5 100.9 L340.8 100.6 L342.1 100.4 L343.3 100.1 L344.6 99.9 L345.9 99.6 L347.2 99.4 L348.5 99.2 L349.8 99.0 L351.1 98.8 L352.4 98.6 L353.8 98.4 L355.1 98.3 L356.4 98.1 L357.7 98.0 L359.0 97.8 L360.4 97.7 L361.7 97.6 L363.0 97.5 L364.4 97.3 L365.7 97.2 L367.1 97.1 L368.4 97.1 L369.8 97.0 L371.1 96.9 L372.5 96.8 L373.8 96.8 L375.2 96.7 L376.5 96.7 L377.9 96.6 L379.3 96.6 L380.6 96.6 L382.0 96.6 L383.4 96.5 L384.7 96.5 L386.1 96.5 L387.4 96.5 L388.8 96.5 L390.2 96.5 L391.5 96.5 L392.9 96.5 L394.3 96.5 L395.6 96.5 L397.0 96.6 L398.4 96.6 L399.7 96.6 L401.1 96.6 L402.5 96.7 L403.8 96.7 L405.2 96.7 L406.5 96.8 L407.9 96.8 L409.2 96.9 L410.6 96.9 L411.9 96.9 L413.3 97.0 L414.6 97.0 L416.0 97.1 L417.3 97.1 L418.7 97.2 L420.0 97.2 L421.3 97.3 L422.7 97.3 L424.0 97.4 L425.3 97.4 L426.7 97.5 L428.0 97.5 L429.3 97.6 L430.7 97.6 L432.0 97.7 L433.3 97.7 L434.6 97.8 L435.9 97.8 L437.3 97.9 L438.6 98.0 L439.9 98.0 L441.2 98.1 L442.5 98.2 L443.8 98.2 L445.1 98.3 L446.4 98.4 L447.8 98.4 L449.1 98.5 L450.4 98.6 L451.7 98.6 L453.0 98.7 L454.3 98.8 L455.6 98.9 L456.9 98.9 L458.2 99.0 L459.5 99.1 L460.8 99.2 L462.1 99.3 L463.4 99.3 L464.7 99.4 L466.0 99.5 L467.2 99.6 L468.5 99.7 L469.8 99.8 L471.1 99.9 L472.4 100.0 L473.7 100.1 L475.0 100.1 L476.3 100.2 L477.6 100.3 L478.9 100.4 L480.1 100.5 L481.4 100.6 L482.7 100.7 L484.0 100.8 L485.3 100.9 L486.6 101.0 L487.9 101.2 L489.2 101.3 L490.4 101.4 L491.7 101.5 L493.0 101.6 L494.3 101.7 L495.6 101.8 L496.9 101.9 L498.2 102.1 L499.4 102.2 L500.7 102.3 L502.0 102.4 L503.3 102.6 L504.6 102.7 L505.9 102.8 L507.2 102.9 L508.5 103.1 L509.7 103.2 L511.0 103.3 L512.3 103.5 L513.6 103.6 L514.9 103.7 L516.2 103.9 L517.5 104.0 L518.8 104.2 L520.1 104.3 L521.4 104.4 L522.6 104.6 L523.9 104.7 L525.2 104.9 L526.5 105.0 L527.8 105.2 L529.1 105.4 L530.4 105.5 L531.7 105.7 L533.0 105.8 L534.3 106.0 L535.6 106.2 L536.9 106.3 L538.2 106.5 L539.5 106.7 L540.8 106.8 L542.1 107.0 L543.4 107.2 L544.8 107.4 L546.1 107.5 L547.4 107.7 L548.7 107.9 L550.0 108.1 L551.3 108.3 L552.6 108.4 L553.9 108.6 L555.3 108.8 L556.6 109.0 L557.9 109.2 L559.2 109.4 L560.6 109.6 L561.9 109.8 L563.2 110.0 L564.5 110.2 L565.9 110.4 L567.2 110.6 L568.5 110.8 L569.9 111.0 L571.2 111.2 L572.6 111.4 L573.9 111.7 L575.2 111.9 L576.6 112.1 L577.9 112.3 L579.3 112.5 L580.6 112.8 L582.0 113.0"/>
</g>
<line x1="239.6" y1="210" x2="239.6" y2="427.5" stroke="#fff" stroke-width="2.2"/>
<line x1="239.6" y1="206" x2="239.6" y2="427.5" stroke="#000" stroke-width="2.4" stroke-dasharray="7.5 3"/>
<line x1="260.7" y1="310" x2="260.7" y2="427.5" stroke="#fff" stroke-width="2.2"/>
<line x1="260.7" y1="306" x2="260.7" y2="427.5" stroke="#000" stroke-width="2.4" stroke-dasharray="7.5 3"/>
<line x1="245.3" y1="436.7" x2="253.39999999999998" y2="436.7" stroke="#000" stroke-width="2.6"/>
<path d="M235.3 436.7 L246.3 430.9 L246.3 442.5 Z M263.4 436.7 L252.39999999999998 430.9 L252.39999999999998 442.5 Z" fill="#000"/>
<text x="192" y="464.6" font-family='"Liberation Serif", "Times New Roman", serif' font-weight="bold" font-size="23" fill="#000">&#916;f<tspan font-size="15.6" dy="4.5">r</tspan><tspan dy="-4.5"> &#8776; 160 MHz</tspan></text>
<rect x="78.0" y="67.3" width="504.0" height="412.9" fill="none" stroke="#000" stroke-width="3"/>
<path d="M69.0 67.30H78.0 M73.5 87.94H78.0 M69.0 108.59H78.0 M73.5 129.23H78.0 M69.0 149.88H78.0 M73.5 170.52H78.0 M69.0 191.17H78.0 M73.5 211.81H78.0 M69.0 232.46H78.0 M73.5 253.10H78.0 M69.0 273.75H78.0 M73.5 294.39H78.0 M69.0 315.04H78.0 M73.5 335.68H78.0 M69.0 356.33H78.0 M73.5 376.97H78.0 M69.0 397.62H78.0 M73.5 418.26H78.0 M69.0 438.91H78.0 M73.5 459.55H78.0 M69.0 480.20H78.0 M174.00 480.2V489.2 M294.00 480.2V489.2 M414.00 480.2V489.2 M534.00 480.2V489.2 M114.00 480.2V484.7 M234.00 480.2V484.7 M354.00 480.2V484.7 M474.00 480.2V484.7" stroke="#000" stroke-width="2.6" fill="none"/>
<g font-family='"Liberation Sans", Arial, sans-serif' font-weight="bold" font-size="18.3" fill="#000"><text x="64.2" y="72.60" text-anchor="end">0</text><text x="64.2" y="113.89" text-anchor="end">-5</text><text x="64.2" y="155.18" text-anchor="end">-10</text><text x="64.2" y="196.47" text-anchor="end">-15</text><text x="64.2" y="237.76" text-anchor="end">-20</text><text x="64.2" y="279.05" text-anchor="end">-25</text><text x="64.2" y="320.34" text-anchor="end">-30</text><text x="64.2" y="361.63" text-anchor="end">-35</text><text x="64.2" y="402.92" text-anchor="end">-40</text><text x="64.2" y="444.21" text-anchor="end">-45</text><text x="64.2" y="485.50" text-anchor="end">-50</text><text x="174.00" y="508.2" text-anchor="middle">9</text><text x="294.00" y="508.2" text-anchor="middle">10</text><text x="414.00" y="508.2" text-anchor="middle">11</text><text x="534.00" y="508.2" text-anchor="middle">12</text></g>
<text x="330.0" y="548.5" text-anchor="middle" font-family='"Liberation Sans", Arial, sans-serif' font-weight="bold" font-size="22.5">Frequency (GHz)</text>
<text transform="translate(17.8 321.5) rotate(-90)" font-family='"Liberation Sans", Arial, sans-serif' font-weight="bold" font-size="22.5">S<tspan font-size="13.9" dy="5">11</tspan><tspan dy="-5"> (dB)</tspan></text>
<rect x="390.2" y="301.3" width="185.5" height="168.5" fill="#fff" stroke="#808080" stroke-width="1.6"/>
<text transform="translate(405.5 330.3) scale(1.04 1)" font-family='"Liberation Sans", Arial, sans-serif' font-weight="bold" font-size="25.5">B = 2mm</text>
<line x1="404.6" y1="358.3" x2="448.3" y2="358.3" stroke="#000000" stroke-width="3"/>
<text transform="translate(455.3 364.6) scale(1.075 1)" font-family='"Liberation Sans", Arial, sans-serif' font-size="25.5">Flat</text>
<line x1="404.6" y1="391.5" x2="448.3" y2="391.5" stroke="#ff0000" stroke-width="3"/>
<text transform="translate(455.3 397.8) scale(1.075 1)" font-family='"Liberation Sans", Arial, sans-serif' font-size="25.5">R=40mm</text>
<line x1="404.6" y1="424.7" x2="448.3" y2="424.7" stroke="#0000ff" stroke-width="3"/>
<text transform="translate(455.3 431.0) scale(1.075 1)" font-family='"Liberation Sans", Arial, sans-serif' font-size="25.5">R=30mm</text>
<line x1="404.6" y1="457.9" x2="448.3" y2="457.9" stroke="#008080" stroke-width="3"/>
<text transform="translate(455.3 464.2) scale(1.075 1)" font-family='"Liberation Sans", Arial, sans-serif' font-size="25.5">R=20mm</text>
<clipPath id="clipb"><rect x="713.5" y="66.9" width="507.5" height="414.1"/></clipPath>
<g clip-path="url(#clipb)" fill="none" stroke-width="2.8" stroke-linejoin="round" stroke-linecap="round">
<path stroke="#000000" d="M713.5 87.6 L714.4 87.7 L715.3 87.8 L716.2 87.8 L717.1 87.9 L718.0 88.0 L718.9 88.1 L719.8 88.2 L720.7 88.3 L721.6 88.3 L722.6 88.4 L723.5 88.5 L724.4 88.6 L725.3 88.7 L726.2 88.8 L727.2 88.9 L728.1 89.0 L729.0 89.1 L730.0 89.2 L730.9 89.3 L731.8 89.4 L732.8 89.5 L733.7 89.6 L734.6 89.7 L735.6 89.8 L736.5 89.9 L737.5 90.0 L738.4 90.1 L739.4 90.3 L740.3 90.4 L741.3 90.5 L742.2 90.6 L743.2 90.7 L744.2 90.9 L745.1 91.0 L746.1 91.1 L747.0 91.3 L748.0 91.4 L748.9 91.5 L749.9 91.7 L750.9 91.8 L751.8 91.9 L752.8 92.1 L753.8 92.2 L754.7 92.4 L755.7 92.5 L756.7 92.7 L757.6 92.8 L758.6 93.0 L759.6 93.1 L760.5 93.3 L761.5 93.5 L762.5 93.6 L763.5 93.8 L764.4 94.0 L765.4 94.2 L766.4 94.3 L767.3 94.5 L768.3 94.7 L769.3 94.9 L770.2 95.1 L771.2 95.2 L772.2 95.4 L773.2 95.6 L774.1 95.8 L775.1 96.0 L776.1 96.2 L777.0 96.4 L778.0 96.7 L779.0 96.9 L779.9 97.1 L780.9 97.3 L781.9 97.5 L782.8 97.7 L783.8 98.0 L784.8 98.2 L785.7 98.4 L786.7 98.7 L787.6 98.9 L788.6 99.2 L789.5 99.4 L790.5 99.6 L791.5 99.9 L792.4 100.2 L793.4 100.4 L794.3 100.7 L795.3 100.9 L796.2 101.2 L797.2 101.5 L798.1 101.8 L799.1 102.0 L800.0 102.3 L800.9 102.6 L801.9 102.9 L802.8 103.2 L803.7 103.5 L804.7 103.8 L805.6 104.1 L806.5 104.4 L807.5 104.7 L808.4 105.0 L809.3 105.3 L810.2 105.7 L811.2 106.0 L812.1 106.3 L813.0 106.7 L813.9 107.0 L814.8 107.3 L815.7 107.7 L816.6 108.0 L817.5 108.4 L818.4 108.8 L819.3 109.1 L820.2 109.5 L821.1 109.9 L822.0 110.2 L822.9 110.6 L823.8 111.0 L824.6 111.4 L825.5 111.8 L826.4 112.2 L827.3 112.6 L828.1 113.0 L829.0 113.4 L829.9 113.8 L830.7 114.2 L831.6 114.6 L832.4 115.1 L833.3 115.5 L834.1 115.9 L834.9 116.4 L835.8 116.8 L836.6 117.3 L837.4 117.7 L838.3 118.2 L839.1 118.6 L839.9 119.1 L840.7 119.6 L841.5 120.1 L842.3 120.5 L843.1 121.0 L843.9 121.5 L844.7 122.0 L845.5 122.5 L846.3 123.0 L847.1 123.6 L847.9 124.1 L848.6 124.6 L849.4 125.1 L850.2 125.7 L850.9 126.2 L851.7 126.7 L852.4 127.3 L853.2 127.8 L853.9 128.4 L854.6 129.0 L855.4 129.5 L856.1 130.1 L856.8 130.7 L857.5 131.3 L858.3 131.9 L859.0 132.5 L859.7 133.1 L860.4 133.7 L861.0 134.3 L861.7 134.9 L862.4 135.5 L863.1 136.2 L863.8 136.8 L864.4 137.4 L865.1 138.1 L865.7 138.7 L866.4 139.4 L867.0 140.0 L867.6 140.7 L868.3 141.4 L868.9 142.1 L869.5 142.8 L870.1 143.5 L870.7 144.2 L871.3 144.9 L871.9 145.6 L872.5 146.3 L873.1 147.0 L873.7 147.7 L874.2 148.5 L874.8 149.2 L875.4 150.0 L875.9 150.7 L876.5 151.5 L877.0 152.2 L877.5 153.0 L878.1 153.8 L878.6 154.5 L879.1 155.3 L879.6 156.1 L880.1 156.9 L880.6 157.7 L881.1 158.5 L881.6 159.3 L882.1 160.1 L882.6 160.9 L883.1 161.8 L883.6 162.6 L884.0 163.4 L884.5 164.2 L885.0 165.1 L885.4 165.9 L885.9 166.8 L886.3 167.6 L886.8 168.5 L887.2 169.3 L887.6 170.2 L888.1 171.0 L888.5 171.9 L888.9 172.8 L889.3 173.6 L889.8 174.5 L890.2 175.4 L890.6 176.3 L891.0 177.2 L891.4 178.0 L891.8 178.9 L892.2 179.8 L892.6 180.7 L892.9 181.6 L893.3 182.5 L893.7 183.4 L894.1 184.3 L894.5 185.2 L894.8 186.1 L895.2 187.0 L895.6 188.0 L895.9 188.9 L896.3 189.8 L896.6 190.7 L897.0 191.6 L897.4 192.5 L897.7 193.5 L898.1 194.4 L898.4 195.3 L898.7 196.2 L899.1 197.2 L899.4 198.1 L899.8 199.0 L900.1 199.9 L900.4 200.9 L900.8 201.8 L901.1 202.7 L901.4 203.7 L901.7 204.6 L902.1 205.5 L902.4 206.5 L902.7 207.4 L903.0 208.3 L903.3 209.3 L903.7 210.2 L904.0 211.1 L904.3 212.0 L904.6 213.0 L904.9 213.9 L905.2 214.8 L905.5 215.8 L905.8 216.7 L906.2 217.6 L906.5 218.6 L906.8 219.5 L907.1 220.4 L907.4 221.3 L907.7 222.3 L908.0 223.2 L908.3 224.1 L908.6 225.0 L908.9 225.9 L909.2 226.9 L909.5 227.8 L909.8 228.7 L910.1 229.6 L910.4 230.5 L910.7 231.4 L911.1 232.3 L911.4 233.2 L911.7 234.1 L912.0 235.0 L912.3 235.9 L912.6 236.8 L912.9 237.7 L913.2 238.6 L913.5 239.5 L913.8 240.3 L914.1 241.2 L914.5 242.1 L914.8 243.0 L915.1 243.8 L915.4 244.7 L915.7 245.6 L916.0 246.4 L916.4 247.3 L916.7 248.2 L917.0 249.0 L917.8 248.0 L918.6 247.0 L919.3 246.0 L920.0 245.0 L920.7 244.0 L921.4 242.9 L922.0 241.9 L922.7 240.8 L923.3 239.7 L923.9 238.6 L924.4 237.5 L925.0 236.4 L925.5 235.3 L926.1 234.2 L926.6 233.1 L927.1 231.9 L927.6 230.8 L928.0 229.6 L928.5 228.5 L928.9 227.3 L929.4 226.1 L929.8 225.0 L930.2 223.8 L930.6 222.6 L931.1 221.4 L931.5 220.2 L931.8 219.0 L932.2 217.8 L932.6 216.6 L933.0 215.3 L933.4 214.1 L933.7 212.9 L934.1 211.7 L934.5 210.4 L934.9 209.2 L935.2 208.0 L935.6 206.7 L936.0 205.5 L936.4 204.3 L936.8 203.0 L937.2 201.8 L937.5 200.6 L937.9 199.3 L938.4 198.1 L938.8 196.8 L939.2 195.6 L939.6 194.4 L940.1 193.1 L940.5 191.9 L940.9 190.7 L941.4 189.4 L941.9 188.2 L942.3 187.0 L942.8 185.8 L943.3 184.5 L943.8 183.3 L944.3 182.1 L944.8 180.9 L945.3 179.7 L945.8 178.5 L946.4 177.3 L946.9 176.1 L947.4 174.9 L948.0 173.7 L948.6 172.6 L949.1 171.4 L949.7 170.2 L950.3 169.1 L950.9 167.9 L951.5 166.8 L952.1 165.7 L952.7 164.5 L953.4 163.4 L954.0 162.3 L954.6 161.2 L955.3 160.1 L956.0 159.0 L956.6 157.9 L957.3 156.9 L958.0 155.8 L958.7 154.8 L959.4 153.7 L960.2 152.7 L960.9 151.7 L961.7 150.7 L962.4 149.7 L963.2 148.7 L964.0 147.7 L964.7 146.7 L965.5 145.8 L966.3 144.9 L967.2 143.9 L968.0 143.0 L968.8 142.1 L969.7 141.2 L970.5 140.4 L971.4 139.5 L972.3 138.7 L973.2 137.8 L974.1 137.0 L975.0 136.2 L975.9 135.4 L976.9 134.7 L977.8 133.9 L978.8 133.2 L979.8 132.4 L980.7 131.7 L981.7 131.0 L982.7 130.3 L983.7 129.6 L984.8 129.0 L985.8 128.3 L986.8 127.7 L987.9 127.0 L988.9 126.4 L990.0 125.8 L991.1 125.2 L992.2 124.7 L993.2 124.1 L994.3 123.5 L995.4 123.0 L996.6 122.5 L997.7 122.0 L998.8 121.4 L1000.0 121.0 L1001.1 120.5 L1002.3 120.0 L1003.4 119.5 L1004.6 119.1 L1005.8 118.6 L1006.9 118.2 L1008.1 117.8 L1009.3 117.4 L1010.5 117.0 L1011.7 116.6 L1012.9 116.2 L1014.1 115.9 L1015.4 115.5 L1016.6 115.2 L1017.8 114.8 L1019.1 114.5 L1020.3 114.2 L1021.6 113.9 L1022.8 113.6 L1024.1 113.3 L1025.3 113.0 L1026.6 112.7 L1027.9 112.5 L1029.2 112.2 L1030.4 112.0 L1031.7 111.7 L1033.0 111.5 L1034.3 111.3 L1035.6 111.1 L1036.9 110.9 L1038.2 110.7 L1039.5 110.5 L1040.8 110.3 L1042.1 110.1 L1043.4 110.0 L1044.7 109.8 L1046.0 109.7 L1047.4 109.5 L1048.7 109.4 L1050.0 109.2 L1051.3 109.1 L1052.6 109.0 L1054.0 108.9 L1055.3 108.8 L1056.6 108.7 L1057.9 108.6 L1059.3 108.5 L1060.6 108.4 L1061.9 108.4 L1063.3 108.3 L1064.6 108.2 L1065.9 108.2 L1067.2 108.1 L1068.6 108.1 L1069.9 108.0 L1071.2 108.0 L1072.6 108.0 L1073.9 108.0 L1075.2 107.9 L1076.5 107.9 L1077.9 107.9 L1079.2 107.9 L1080.5 107.9 L1081.8 107.9 L1083.1 107.9 L1084.4 107.9 L1085.7 107.9 L1087.1 107.9 L1088.4 108.0 L1089.7 108.0 L1091.0 108.0 L1092.3 108.0 L1093.6 108.1 L1094.9 108.1 L1096.1 108.2 L1097.4 108.2 L1098.7 108.2 L1100.0 108.3 L1101.3 108.3 L1102.5 108.4 L1103.8 108.5 L1105.1 108.5 L1106.4 108.6 L1107.6 108.6 L1108.9 108.7 L1110.2 108.8 L1111.4 108.9 L1112.7 108.9 L1113.9 109.0 L1115.2 109.1 L1116.5 109.2 L1117.7 109.3 L1119.0 109.4 L1120.2 109.5 L1121.5 109.6 L1122.7 109.7 L1123.9 109.8 L1125.2 109.9 L1126.4 110.0 L1127.7 110.1 L1128.9 110.2 L1130.2 110.3 L1131.4 110.4 L1132.6 110.5 L1133.9 110.6 L1135.1 110.7 L1136.3 110.9 L1137.6 111.0 L1138.8 111.1 L1140.1 111.2 L1141.3 111.4 L1142.5 111.5 L1143.8 111.6 L1145.0 111.8 L1146.2 111.9 L1147.5 112.0 L1148.7 112.2 L1149.9 112.3 L1151.1 112.5 L1152.4 112.6 L1153.6 112.7 L1154.8 112.9 L1156.1 113.0 L1157.3 113.2 L1158.6 113.3 L1159.8 113.5 L1161.0 113.6 L1162.3 113.8 L1163.5 113.9 L1164.7 114.1 L1166.0 114.3 L1167.2 114.4 L1168.5 114.6 L1169.7 114.7 L1170.9 114.9 L1172.2 115.1 L1173.4 115.2 L1174.7 115.4 L1175.9 115.5 L1177.2 115.7 L1178.4 115.9 L1179.7 116.0 L1180.9 116.2 L1182.2 116.4 L1183.5 116.5 L1184.7 116.7 L1186.0 116.9 L1187.2 117.1 L1188.5 117.2 L1189.8 117.4 L1191.0 117.6 L1192.3 117.7 L1193.6 117.9 L1194.9 118.1 L1196.1 118.3 L1197.4 118.4 L1198.7 118.6 L1200.0 118.8 L1201.3 118.9 L1202.6 119.1 L1203.9 119.3 L1205.2 119.5 L1206.5 119.6 L1207.8 119.8 L1209.1 120.0 L1210.4 120.1 L1211.7 120.3 L1213.0 120.5 L1214.3 120.7 L1215.7 120.8 L1217.0 121.0 L1218.3 121.2 L1219.7 121.3 L1221.0 121.5"/>
<path stroke="#ff0000" d="M713.5 88.3 L714.6 88.4 L715.6 88.5 L716.7 88.6 L717.8 88.8 L718.8 88.9 L719.9 89.0 L721.0 89.1 L722.1 89.2 L723.2 89.4 L724.3 89.5 L725.3 89.6 L726.4 89.7 L727.5 89.8 L728.6 90.0 L729.7 90.1 L730.8 90.2 L731.9 90.4 L733.0 90.5 L734.1 90.6 L735.2 90.8 L736.3 90.9 L737.4 91.0 L738.5 91.2 L739.7 91.3 L740.8 91.5 L741.9 91.6 L743.0 91.8 L744.1 91.9 L745.2 92.1 L746.3 92.2 L747.5 92.4 L748.6 92.5 L749.7 92.7 L750.8 92.9 L751.9 93.0 L753.1 93.2 L754.2 93.4 L755.3 93.5 L756.4 93.7 L757.6 93.9 L758.7 94.1 L759.8 94.3 L760.9 94.5 L762.1 94.7 L763.2 94.9 L764.3 95.1 L765.4 95.3 L766.6 95.5 L767.7 95.7 L768.8 95.9 L769.9 96.1 L771.1 96.4 L772.2 96.6 L773.3 96.8 L774.4 97.1 L775.6 97.3 L776.7 97.6 L777.8 97.8 L778.9 98.1 L780.0 98.3 L781.2 98.6 L782.3 98.8 L783.4 99.1 L784.5 99.4 L785.6 99.7 L786.8 100.0 L787.9 100.3 L789.0 100.5 L790.1 100.8 L791.2 101.2 L792.3 101.5 L793.4 101.8 L794.5 102.1 L795.6 102.4 L796.7 102.8 L797.8 103.1 L798.9 103.4 L800.0 103.8 L801.1 104.1 L802.2 104.5 L803.3 104.9 L804.4 105.2 L805.5 105.6 L806.6 106.0 L807.6 106.4 L808.7 106.8 L809.8 107.2 L810.9 107.6 L811.9 108.0 L813.0 108.4 L814.1 108.9 L815.1 109.3 L816.2 109.7 L817.3 110.2 L818.3 110.6 L819.4 111.1 L820.4 111.6 L821.4 112.0 L822.5 112.5 L823.5 113.0 L824.5 113.5 L825.6 114.0 L826.6 114.5 L827.6 115.0 L828.6 115.5 L829.6 116.0 L830.6 116.6 L831.6 117.1 L832.6 117.6 L833.6 118.2 L834.6 118.7 L835.5 119.3 L836.5 119.9 L837.5 120.4 L838.4 121.0 L839.4 121.6 L840.3 122.2 L841.3 122.8 L842.2 123.4 L843.1 124.0 L844.0 124.7 L845.0 125.3 L845.9 125.9 L846.8 126.6 L847.7 127.2 L848.5 127.9 L849.4 128.6 L850.3 129.2 L851.1 129.9 L852.0 130.6 L852.8 131.3 L853.7 132.0 L854.5 132.7 L855.3 133.4 L856.2 134.1 L857.0 134.9 L857.8 135.6 L858.6 136.4 L859.3 137.1 L860.1 137.9 L860.9 138.6 L861.6 139.4 L862.4 140.2 L863.1 141.0 L863.8 141.8 L864.6 142.6 L865.3 143.4 L866.0 144.2 L866.7 145.1 L867.4 145.9 L868.0 146.7 L868.7 147.6 L869.4 148.4 L870.0 149.3 L870.7 150.2 L871.3 151.0 L871.9 151.9 L872.5 152.8 L873.2 153.7 L873.8 154.6 L874.4 155.5 L874.9 156.4 L875.5 157.3 L876.1 158.3 L876.7 159.2 L877.2 160.1 L877.8 161.1 L878.3 162.0 L878.8 163.0 L879.4 163.9 L879.9 164.9 L880.4 165.8 L880.9 166.8 L881.4 167.8 L881.9 168.8 L882.4 169.8 L882.9 170.8 L883.4 171.8 L883.8 172.8 L884.3 173.8 L884.7 174.8 L885.2 175.8 L885.6 176.8 L886.1 177.8 L886.5 178.9 L886.9 179.9 L887.3 180.9 L887.7 182.0 L888.1 183.0 L888.5 184.1 L888.9 185.1 L889.3 186.2 L889.7 187.3 L890.1 188.3 L890.4 189.4 L890.8 190.5 L891.2 191.5 L891.5 192.6 L891.9 193.7 L892.2 194.8 L892.5 195.9 L892.9 197.0 L893.2 198.1 L893.5 199.2 L893.8 200.3 L894.2 201.4 L894.5 202.5 L894.8 203.6 L895.1 204.7 L895.4 205.8 L895.7 206.9 L895.9 208.0 L896.2 209.1 L896.5 210.3 L896.8 211.4 L897.0 212.5 L897.3 213.6 L897.6 214.8 L897.8 215.9 L898.1 217.0 L898.3 218.2 L898.6 219.3 L898.8 220.5 L899.0 221.6 L899.3 222.7 L899.5 223.9 L899.7 225.0 L900.0 226.2 L900.2 227.3 L900.4 228.4 L900.6 229.6 L900.8 230.7 L901.0 231.9 L901.2 233.0 L901.4 234.2 L901.6 235.3 L901.8 236.5 L902.0 237.6 L902.2 238.8 L902.4 239.9 L902.6 241.1 L902.8 242.2 L903.0 243.4 L903.1 244.5 L903.3 245.7 L903.5 246.8 L903.7 248.0 L903.8 249.1 L904.0 250.3 L904.2 251.4 L904.3 252.6 L904.5 253.7 L904.6 254.9 L904.8 256.0 L905.0 257.1 L905.1 258.3 L905.3 259.4 L905.4 260.6 L905.6 261.7 L905.7 262.8 L905.9 264.0 L906.0 265.1 L906.2 266.2 L906.3 267.4 L906.5 268.5 L906.6 269.6 L906.7 270.8 L906.9 271.9 L907.0 273.0 L907.2 274.1 L907.3 275.2 L907.5 276.4 L907.6 277.5 L907.7 278.6 L907.9 279.7 L908.0 280.8 L908.1 281.9 L908.3 283.0 L908.4 284.1 L908.6 285.2 L908.7 286.3 L908.8 287.4 L909.0 288.4 L909.1 289.5 L909.3 290.6 L909.4 291.7 L909.5 292.7 L909.7 293.8 L909.8 294.9 L910.0 295.9 L910.1 297.0 L910.3 298.0 L910.4 299.1 L910.5 300.1 L910.7 301.2 L910.8 302.2 L911.0 303.2 L911.1 304.3 L911.3 305.3 L911.6 303.9 L912.0 302.5 L912.3 301.0 L912.6 299.6 L912.9 298.2 L913.2 296.7 L913.5 295.3 L913.8 293.9 L914.0 292.4 L914.3 291.0 L914.6 289.6 L914.8 288.1 L915.1 286.7 L915.4 285.2 L915.6 283.8 L915.8 282.3 L916.1 280.9 L916.3 279.4 L916.6 278.0 L916.8 276.5 L917.0 275.1 L917.2 273.6 L917.5 272.2 L917.7 270.7 L917.9 269.2 L918.1 267.8 L918.3 266.3 L918.5 264.9 L918.7 263.4 L919.0 261.9 L919.2 260.5 L919.4 259.0 L919.6 257.5 L919.8 256.1 L920.0 254.6 L920.2 253.1 L920.5 251.7 L920.7 250.2 L920.9 248.7 L921.1 247.3 L921.3 245.8 L921.6 244.3 L921.8 242.9 L922.0 241.4 L922.3 239.9 L922.5 238.4 L922.8 237.0 L923.0 235.5 L923.3 234.0 L923.5 232.6 L923.8 231.1 L924.1 229.6 L924.4 228.2 L924.6 226.7 L924.9 225.2 L925.2 223.8 L925.5 222.3 L925.8 220.8 L926.2 219.4 L926.5 217.9 L926.8 216.5 L927.2 215.0 L927.5 213.5 L927.9 212.1 L928.2 210.6 L928.6 209.2 L929.0 207.7 L929.4 206.2 L929.8 204.8 L930.2 203.3 L930.6 201.9 L931.1 200.4 L931.5 199.0 L932.0 197.6 L932.5 196.1 L932.9 194.7 L933.4 193.2 L933.9 191.8 L934.5 190.4 L935.0 189.0 L935.5 187.5 L936.1 186.1 L936.6 184.7 L937.2 183.3 L937.8 181.9 L938.4 180.5 L939.0 179.2 L939.6 177.8 L940.2 176.4 L940.8 175.0 L941.5 173.7 L942.1 172.3 L942.8 171.0 L943.5 169.7 L944.2 168.3 L944.9 167.0 L945.6 165.7 L946.3 164.4 L947.1 163.1 L947.8 161.9 L948.6 160.6 L949.4 159.4 L950.1 158.1 L950.9 156.9 L951.8 155.7 L952.6 154.5 L953.4 153.3 L954.3 152.1 L955.1 150.9 L956.0 149.7 L956.9 148.6 L957.8 147.5 L958.7 146.4 L959.6 145.3 L960.5 144.2 L961.5 143.1 L962.5 142.0 L963.4 141.0 L964.4 140.0 L965.4 139.0 L966.4 138.0 L967.4 137.0 L968.5 136.0 L969.5 135.1 L970.6 134.2 L971.7 133.3 L972.8 132.4 L973.9 131.5 L975.0 130.7 L976.1 129.8 L977.2 129.0 L978.4 128.2 L979.6 127.4 L980.7 126.7 L981.9 125.9 L983.1 125.2 L984.4 124.5 L985.6 123.8 L986.8 123.2 L988.1 122.5 L989.3 121.9 L990.6 121.3 L991.9 120.7 L993.2 120.1 L994.5 119.5 L995.8 119.0 L997.1 118.4 L998.4 117.9 L999.8 117.4 L1001.1 116.9 L1002.5 116.4 L1003.9 116.0 L1005.2 115.5 L1006.6 115.1 L1008.0 114.7 L1009.4 114.3 L1010.8 113.9 L1012.2 113.5 L1013.7 113.2 L1015.1 112.8 L1016.5 112.5 L1018.0 112.1 L1019.4 111.8 L1020.9 111.5 L1022.3 111.3 L1023.8 111.0 L1025.3 110.7 L1026.7 110.5 L1028.2 110.2 L1029.7 110.0 L1031.2 109.8 L1032.7 109.6 L1034.2 109.4 L1035.7 109.2 L1037.2 109.0 L1038.7 108.9 L1040.2 108.7 L1041.8 108.6 L1043.3 108.4 L1044.8 108.3 L1046.3 108.2 L1047.9 108.1 L1049.4 108.0 L1050.9 107.9 L1052.5 107.8 L1054.0 107.7 L1055.5 107.7 L1057.1 107.6 L1058.6 107.5 L1060.2 107.5 L1061.7 107.5 L1063.2 107.4 L1064.8 107.4 L1066.3 107.4 L1067.9 107.4 L1069.4 107.4 L1071.0 107.4 L1072.5 107.4 L1074.0 107.4 L1075.6 107.4 L1077.1 107.4 L1078.6 107.5 L1080.2 107.5 L1081.7 107.5 L1083.2 107.6 L1084.7 107.6 L1086.3 107.7 L1087.8 107.7 L1089.3 107.8 L1090.8 107.8 L1092.3 107.9 L1093.8 108.0 L1095.3 108.0 L1096.8 108.1 L1098.3 108.2 L1099.8 108.3 L1101.3 108.3 L1102.8 108.4 L1104.2 108.5 L1105.7 108.6 L1107.2 108.7 L1108.7 108.8 L1110.1 108.9 L1111.6 109.0 L1113.1 109.1 L1114.5 109.2 L1116.0 109.3 L1117.5 109.4 L1118.9 109.5 L1120.4 109.6 L1121.8 109.7 L1123.3 109.9 L1124.7 110.0 L1126.2 110.1 L1127.6 110.2 L1129.1 110.4 L1130.5 110.5 L1131.9 110.6 L1133.4 110.8 L1134.8 110.9 L1136.3 111.0 L1137.7 111.2 L1139.1 111.3 L1140.6 111.5 L1142.0 111.6 L1143.4 111.8 L1144.9 111.9 L1146.3 112.1 L1147.7 112.2 L1149.2 112.4 L1150.6 112.5 L1152.0 112.7 L1153.5 112.9 L1154.9 113.0 L1156.3 113.2 L1157.8 113.4 L1159.2 113.5 L1160.6 113.7 L1162.1 113.9 L1163.5 114.0 L1164.9 114.2 L1166.4 114.4 L1167.8 114.6 L1169.3 114.7 L1170.7 114.9 L1172.1 115.1 L1173.6 115.3 L1175.0 115.5 L1176.5 115.6 L1177.9 115.8 L1179.4 116.0 L1180.8 116.2 L1182.3 116.4 L1183.7 116.6 L1185.2 116.8 L1186.6 117.0 L1188.1 117.2 L1189.6 117.3 L1191.0 117.5 L1192.5 117.7 L1194.0 117.9 L1195.4 118.1 L1196.9 118.3 L1198.4 118.5 L1199.9 118.7 L1201.4 118.9 L1202.9 119.1 L1204.4 119.3 L1205.8 119.5 L1207.3 119.7 L1208.8 119.9 L1210.4 120.1 L1211.9 120.3 L1213.4 120.5 L1214.9 120.7 L1216.4 120.9 L1217.9 121.1 L1219.5 121.3 L1221.0 121.5"/>
<path stroke="#0000ff" d="M713.5 88.6 L714.8 88.8 L716.2 89.0 L717.5 89.1 L718.9 89.3 L720.3 89.5 L721.6 89.7 L723.0 89.9 L724.4 90.0 L725.8 90.2 L727.1 90.4 L728.5 90.6 L729.9 90.8 L731.3 90.9 L732.7 91.1 L734.1 91.3 L735.5 91.5 L736.9 91.7 L738.3 91.9 L739.7 92.1 L741.1 92.3 L742.5 92.5 L743.9 92.7 L745.4 92.9 L746.8 93.1 L748.2 93.3 L749.6 93.5 L751.0 93.7 L752.4 93.9 L753.9 94.1 L755.3 94.4 L756.7 94.6 L758.1 94.8 L759.6 95.1 L761.0 95.3 L762.4 95.6 L763.8 95.8 L765.3 96.1 L766.7 96.3 L768.1 96.6 L769.5 96.9 L770.9 97.2 L772.4 97.4 L773.8 97.7 L775.2 98.0 L776.6 98.3 L778.0 98.6 L779.5 99.0 L780.9 99.3 L782.3 99.6 L783.7 100.0 L785.1 100.3 L786.5 100.6 L787.9 101.0 L789.3 101.4 L790.7 101.8 L792.1 102.1 L793.5 102.5 L794.9 102.9 L796.3 103.3 L797.6 103.8 L799.0 104.2 L800.4 104.6 L801.8 105.1 L803.1 105.5 L804.5 106.0 L805.9 106.5 L807.2 106.9 L808.6 107.4 L809.9 107.9 L811.2 108.5 L812.6 109.0 L813.9 109.5 L815.2 110.1 L816.5 110.6 L817.8 111.2 L819.1 111.8 L820.4 112.4 L821.7 113.0 L823.0 113.6 L824.3 114.2 L825.6 114.8 L826.8 115.5 L828.1 116.2 L829.3 116.8 L830.5 117.5 L831.7 118.2 L833.0 118.9 L834.2 119.7 L835.4 120.4 L836.5 121.2 L837.7 121.9 L838.9 122.7 L840.0 123.5 L841.2 124.3 L842.3 125.1 L843.4 126.0 L844.5 126.8 L845.6 127.7 L846.7 128.6 L847.7 129.5 L848.8 130.4 L849.8 131.3 L850.9 132.2 L851.9 133.2 L852.9 134.2 L853.8 135.2 L854.8 136.1 L855.8 137.2 L856.7 138.2 L857.7 139.2 L858.6 140.3 L859.5 141.3 L860.4 142.4 L861.3 143.5 L862.1 144.6 L863.0 145.7 L863.8 146.8 L864.7 148.0 L865.5 149.1 L866.3 150.2 L867.1 151.4 L867.9 152.6 L868.7 153.7 L869.4 154.9 L870.2 156.1 L870.9 157.3 L871.7 158.5 L872.4 159.7 L873.1 161.0 L873.8 162.2 L874.5 163.4 L875.1 164.6 L875.8 165.9 L876.5 167.1 L877.1 168.4 L877.7 169.6 L878.4 170.9 L879.0 172.1 L879.6 173.4 L880.2 174.7 L880.8 175.9 L881.4 177.2 L881.9 178.5 L882.5 179.8 L883.0 181.1 L883.6 182.3 L884.1 183.6 L884.6 184.9 L885.1 186.2 L885.6 187.5 L886.1 188.8 L886.6 190.2 L887.1 191.5 L887.5 192.8 L888.0 194.1 L888.5 195.4 L888.9 196.8 L889.3 198.1 L889.8 199.4 L890.2 200.8 L890.6 202.1 L891.0 203.4 L891.4 204.8 L891.8 206.1 L892.1 207.5 L892.5 208.8 L892.9 210.2 L893.2 211.6 L893.6 212.9 L893.9 214.3 L894.3 215.7 L894.6 217.0 L894.9 218.4 L895.2 219.8 L895.5 221.2 L895.8 222.5 L896.1 223.9 L896.4 225.3 L896.7 226.7 L897.0 228.1 L897.2 229.5 L897.5 230.9 L897.7 232.3 L898.0 233.7 L898.2 235.1 L898.5 236.5 L898.7 237.9 L898.9 239.3 L899.2 240.7 L899.4 242.1 L899.6 243.5 L899.8 244.9 L900.0 246.3 L900.2 247.7 L900.4 249.2 L900.5 250.6 L900.7 252.0 L900.9 253.4 L901.1 254.9 L901.2 256.3 L901.4 257.7 L901.6 259.1 L901.7 260.6 L901.9 262.0 L902.0 263.4 L902.1 264.9 L902.3 266.3 L902.4 267.7 L902.5 269.2 L902.6 270.6 L902.8 272.0 L902.9 273.5 L903.0 274.9 L903.1 276.4 L903.2 277.8 L903.3 279.2 L903.4 280.7 L903.5 282.1 L903.6 283.6 L903.7 285.0 L903.8 286.5 L903.9 287.9 L903.9 289.3 L904.0 290.8 L904.1 292.2 L904.2 293.7 L904.2 295.1 L904.3 296.6 L904.4 298.0 L904.4 299.5 L904.5 300.9 L904.6 302.4 L904.6 303.8 L904.7 305.3 L904.7 306.7 L904.8 308.1 L904.9 309.6 L904.9 311.0 L905.0 312.5 L905.0 313.9 L905.1 315.4 L905.1 316.8 L905.1 318.3 L905.2 319.7 L905.2 321.1 L905.3 322.6 L905.3 324.0 L905.4 325.5 L905.4 326.9 L905.5 328.3 L905.5 329.8 L905.5 331.2 L905.6 332.7 L905.6 334.1 L905.7 335.5 L905.7 337.0 L905.7 338.4 L905.8 339.8 L905.8 341.3 L905.9 342.7 L905.9 344.1 L906.0 345.5 L906.0 347.0 L906.1 348.4 L906.1 349.8 L906.2 351.2 L906.2 352.6 L906.3 354.1 L906.3 355.5 L906.4 356.9 L906.4 358.3 L906.5 359.7 L906.5 361.1 L906.6 362.5 L906.7 363.9 L906.7 365.3 L906.8 366.7 L906.8 368.1 L906.9 369.5 L907.0 370.9 L907.1 372.3 L907.1 373.7 L907.2 375.1 L907.3 376.5 L907.4 377.9 L907.5 379.3 L907.6 380.6 L907.7 382.0 L907.8 383.4 L907.9 384.8 L908.0 386.1 L908.1 387.5 L908.2 388.9 L908.3 390.2 L908.4 391.6 L908.5 392.9 L908.6 394.3 L908.8 395.7 L908.9 397.0 L909.1 395.2 L909.3 393.4 L909.4 391.6 L909.6 389.7 L909.8 387.9 L909.9 386.1 L910.1 384.3 L910.2 382.5 L910.4 380.7 L910.5 378.9 L910.6 377.1 L910.8 375.3 L910.9 373.5 L911.0 371.7 L911.1 369.9 L911.2 368.1 L911.3 366.3 L911.4 364.5 L911.5 362.7 L911.6 360.9 L911.7 359.1 L911.8 357.3 L911.9 355.6 L912.0 353.8 L912.0 352.0 L912.1 350.2 L912.2 348.4 L912.3 346.6 L912.4 344.8 L912.4 343.1 L912.5 341.3 L912.6 339.5 L912.6 337.7 L912.7 335.9 L912.8 334.1 L912.8 332.4 L912.9 330.6 L913.0 328.8 L913.0 327.0 L913.1 325.2 L913.2 323.5 L913.2 321.7 L913.3 319.9 L913.4 318.1 L913.4 316.3 L913.5 314.6 L913.6 312.8 L913.6 311.0 L913.7 309.2 L913.8 307.5 L913.9 305.7 L914.0 303.9 L914.0 302.1 L914.1 300.3 L914.2 298.6 L914.3 296.8 L914.4 295.0 L914.5 293.2 L914.6 291.5 L914.7 289.7 L914.8 287.9 L914.9 286.1 L915.0 284.3 L915.2 282.6 L915.3 280.8 L915.4 279.0 L915.5 277.2 L915.7 275.4 L915.8 273.6 L916.0 271.9 L916.1 270.1 L916.3 268.3 L916.5 266.5 L916.6 264.7 L916.8 262.9 L917.0 261.1 L917.2 259.4 L917.4 257.6 L917.6 255.8 L917.8 254.0 L918.0 252.2 L918.2 250.4 L918.5 248.6 L918.7 246.8 L918.9 245.0 L919.2 243.2 L919.5 241.4 L919.7 239.6 L920.0 237.8 L920.3 236.0 L920.6 234.2 L920.9 232.4 L921.2 230.6 L921.6 228.8 L921.9 227.0 L922.2 225.2 L922.6 223.3 L923.0 221.5 L923.3 219.7 L923.7 217.9 L924.1 216.1 L924.5 214.3 L924.9 212.5 L925.4 210.7 L925.8 208.9 L926.3 207.1 L926.7 205.3 L927.2 203.5 L927.7 201.7 L928.2 199.9 L928.7 198.1 L929.3 196.3 L929.8 194.6 L930.4 192.8 L930.9 191.1 L931.5 189.3 L932.1 187.6 L932.7 185.9 L933.4 184.1 L934.0 182.4 L934.7 180.7 L935.4 179.0 L936.1 177.4 L936.8 175.7 L937.5 174.1 L938.3 172.4 L939.0 170.8 L939.8 169.2 L940.6 167.6 L941.4 166.0 L942.2 164.4 L943.1 162.9 L944.0 161.3 L944.9 159.8 L945.8 158.3 L946.7 156.8 L947.6 155.4 L948.6 153.9 L949.6 152.5 L950.6 151.1 L951.6 149.7 L952.7 148.3 L953.7 146.9 L954.8 145.6 L955.9 144.3 L957.1 143.0 L958.2 141.8 L959.4 140.5 L960.6 139.3 L961.8 138.1 L963.1 136.9 L964.4 135.8 L965.6 134.7 L967.0 133.6 L968.3 132.5 L969.7 131.5 L971.0 130.4 L972.5 129.5 L973.9 128.5 L975.3 127.6 L976.8 126.6 L978.3 125.7 L979.8 124.9 L981.3 124.0 L982.9 123.2 L984.5 122.4 L986.0 121.7 L987.6 120.9 L989.3 120.2 L990.9 119.5 L992.5 118.8 L994.2 118.1 L995.8 117.5 L997.5 116.9 L999.2 116.3 L1000.9 115.7 L1002.6 115.1 L1004.4 114.6 L1006.1 114.1 L1007.8 113.6 L1009.6 113.1 L1011.3 112.6 L1013.1 112.2 L1014.9 111.7 L1016.6 111.3 L1018.4 110.9 L1020.2 110.5 L1022.0 110.2 L1023.8 109.8 L1025.6 109.5 L1027.3 109.1 L1029.1 108.8 L1030.9 108.5 L1032.7 108.3 L1034.5 108.0 L1036.3 107.8 L1038.1 107.5 L1039.9 107.3 L1041.7 107.1 L1043.5 106.9 L1045.3 106.7 L1047.1 106.5 L1048.9 106.4 L1050.7 106.2 L1052.5 106.1 L1054.3 106.0 L1056.1 105.9 L1057.9 105.8 L1059.7 105.7 L1061.5 105.6 L1063.3 105.6 L1065.1 105.5 L1066.9 105.5 L1068.7 105.4 L1070.6 105.4 L1072.4 105.4 L1074.2 105.4 L1076.0 105.4 L1077.8 105.4 L1079.6 105.5 L1081.4 105.5 L1083.2 105.5 L1085.0 105.6 L1086.8 105.6 L1088.6 105.7 L1090.5 105.8 L1092.3 105.9 L1094.1 106.0 L1095.9 106.1 L1097.7 106.2 L1099.5 106.3 L1101.3 106.4 L1103.1 106.6 L1104.9 106.7 L1106.7 106.8 L1108.6 107.0 L1110.4 107.1 L1112.2 107.3 L1114.0 107.5 L1115.8 107.6 L1117.6 107.8 L1119.4 108.0 L1121.2 108.2 L1123.0 108.3 L1124.8 108.5 L1126.6 108.7 L1128.4 108.9 L1130.3 109.1 L1132.1 109.4 L1133.9 109.6 L1135.7 109.8 L1137.5 110.0 L1139.3 110.2 L1141.1 110.4 L1142.9 110.7 L1144.7 110.9 L1146.5 111.1 L1148.3 111.3 L1150.1 111.6 L1151.9 111.8 L1153.7 112.0 L1155.5 112.3 L1157.3 112.5 L1159.1 112.8 L1160.8 113.0 L1162.6 113.2 L1164.4 113.5 L1166.2 113.7 L1168.0 113.9 L1169.8 114.2 L1171.6 114.4 L1173.4 114.6 L1175.1 114.9 L1176.9 115.1 L1178.7 115.3 L1180.5 115.6 L1182.3 115.8 L1184.0 116.0 L1185.8 116.2 L1187.6 116.4 L1189.4 116.7 L1191.1 116.9 L1192.9 117.1 L1194.7 117.3 L1196.4 117.5 L1198.2 117.7 L1200.0 117.9 L1201.7 118.1 L1203.5 118.2 L1205.3 118.4 L1207.0 118.6 L1208.8 118.8 L1210.5 118.9 L1212.3 119.1 L1214.0 119.2 L1215.8 119.4 L1217.5 119.5 L1219.3 119.7 L1221.0 119.8"/>
<path stroke="#008080" d="M713.5 88.1 L714.4 88.2 L715.3 88.3 L716.2 88.4 L717.1 88.5 L718.0 88.6 L718.9 88.7 L719.8 88.7 L720.7 88.8 L721.7 88.9 L722.6 89.0 L723.5 89.1 L724.4 89.2 L725.3 89.3 L726.2 89.4 L727.2 89.5 L728.1 89.6 L729.0 89.7 L729.9 89.8 L730.9 89.9 L731.8 90.0 L732.7 90.1 L733.6 90.3 L734.6 90.4 L735.5 90.5 L736.4 90.6 L737.4 90.7 L738.3 90.8 L739.3 90.9 L740.2 91.0 L741.1 91.2 L742.1 91.3 L743.0 91.4 L743.9 91.5 L744.9 91.6 L745.8 91.8 L746.8 91.9 L747.7 92.0 L748.7 92.2 L749.6 92.3 L750.5 92.4 L751.5 92.6 L752.4 92.7 L753.4 92.8 L754.3 93.0 L755.3 93.1 L756.2 93.3 L757.2 93.4 L758.1 93.6 L759.1 93.7 L760.0 93.9 L760.9 94.0 L761.9 94.2 L762.8 94.4 L763.8 94.5 L764.7 94.7 L765.7 94.9 L766.6 95.0 L767.6 95.2 L768.5 95.4 L769.5 95.6 L770.4 95.8 L771.4 95.9 L772.3 96.1 L773.2 96.3 L774.2 96.5 L775.1 96.7 L776.1 96.9 L777.0 97.1 L778.0 97.3 L778.9 97.5 L779.8 97.7 L780.8 98.0 L781.7 98.2 L782.7 98.4 L783.6 98.6 L784.5 98.9 L785.5 99.1 L786.4 99.3 L787.3 99.6 L788.3 99.8 L789.2 100.0 L790.1 100.3 L791.1 100.5 L792.0 100.8 L792.9 101.1 L793.9 101.3 L794.8 101.6 L795.7 101.9 L796.6 102.1 L797.6 102.4 L798.5 102.7 L799.4 103.0 L800.3 103.3 L801.2 103.6 L802.1 103.8 L803.1 104.1 L804.0 104.5 L804.9 104.8 L805.8 105.1 L806.7 105.4 L807.6 105.7 L808.5 106.0 L809.4 106.4 L810.3 106.7 L811.2 107.0 L812.1 107.4 L813.0 107.7 L813.9 108.1 L814.8 108.4 L815.6 108.8 L816.5 109.2 L817.4 109.5 L818.3 109.9 L819.2 110.3 L820.0 110.7 L820.9 111.0 L821.8 111.4 L822.6 111.8 L823.5 112.2 L824.3 112.6 L825.2 113.0 L826.0 113.5 L826.9 113.9 L827.7 114.3 L828.6 114.7 L829.4 115.2 L830.3 115.6 L831.1 116.0 L831.9 116.5 L832.7 116.9 L833.5 117.4 L834.4 117.9 L835.2 118.3 L836.0 118.8 L836.8 119.3 L837.6 119.8 L838.4 120.3 L839.2 120.8 L840.0 121.2 L840.7 121.8 L841.5 122.3 L842.3 122.8 L843.0 123.3 L843.8 123.8 L844.6 124.3 L845.3 124.9 L846.1 125.4 L846.8 126.0 L847.6 126.5 L848.3 127.1 L849.0 127.6 L849.7 128.2 L850.5 128.8 L851.2 129.4 L851.9 129.9 L852.6 130.5 L853.3 131.1 L854.0 131.7 L854.6 132.3 L855.3 132.9 L856.0 133.6 L856.7 134.2 L857.3 134.8 L858.0 135.4 L858.6 136.1 L859.3 136.7 L859.9 137.4 L860.5 138.0 L861.2 138.7 L861.8 139.4 L862.4 140.0 L863.0 140.7 L863.6 141.4 L864.2 142.1 L864.8 142.8 L865.3 143.5 L865.9 144.2 L866.5 144.9 L867.0 145.7 L867.6 146.4 L868.1 147.1 L868.6 147.9 L869.2 148.6 L869.7 149.4 L870.2 150.1 L870.7 150.9 L871.2 151.7 L871.7 152.4 L872.2 153.2 L872.7 154.0 L873.2 154.8 L873.6 155.6 L874.1 156.4 L874.6 157.2 L875.0 158.0 L875.5 158.8 L875.9 159.6 L876.4 160.5 L876.8 161.3 L877.2 162.1 L877.6 163.0 L878.1 163.8 L878.5 164.6 L878.9 165.5 L879.3 166.3 L879.7 167.2 L880.1 168.1 L880.5 168.9 L880.9 169.8 L881.2 170.7 L881.6 171.5 L882.0 172.4 L882.4 173.3 L882.7 174.2 L883.1 175.0 L883.4 175.9 L883.8 176.8 L884.2 177.7 L884.5 178.6 L884.8 179.5 L885.2 180.4 L885.5 181.3 L885.8 182.2 L886.2 183.1 L886.5 184.0 L886.8 184.9 L887.2 185.8 L887.5 186.8 L887.8 187.7 L888.1 188.6 L888.4 189.5 L888.7 190.4 L889.0 191.4 L889.3 192.3 L889.6 193.2 L889.9 194.1 L890.2 195.0 L890.5 196.0 L890.8 196.9 L891.1 197.8 L891.4 198.8 L891.7 199.7 L892.0 200.6 L892.3 201.5 L892.5 202.5 L892.8 203.4 L893.1 204.3 L893.4 205.3 L893.7 206.2 L894.0 207.1 L894.2 208.0 L894.5 209.0 L894.8 209.9 L895.1 210.8 L895.3 211.7 L895.6 212.7 L895.9 213.6 L896.2 214.5 L896.4 215.4 L896.7 216.4 L897.0 217.3 L897.3 218.2 L897.5 219.1 L897.8 220.0 L898.1 220.9 L898.4 221.9 L898.7 222.8 L898.9 223.7 L899.2 224.6 L899.5 225.5 L899.8 226.4 L900.1 227.3 L900.3 228.2 L900.6 229.1 L900.9 230.0 L901.2 230.9 L901.5 231.7 L901.8 232.6 L902.1 233.5 L902.4 234.4 L902.7 235.3 L903.0 236.1 L903.3 237.0 L903.6 237.9 L903.9 238.7 L904.2 239.6 L904.5 240.5 L904.8 241.3 L905.1 242.1 L905.4 243.0 L905.7 243.8 L906.1 244.7 L906.4 245.5 L906.7 246.3 L907.0 247.2 L907.4 248.0 L907.7 248.8 L908.1 249.6 L908.4 250.4 L908.8 249.3 L909.3 248.2 L909.7 247.0 L910.1 245.9 L910.6 244.7 L911.0 243.6 L911.4 242.4 L911.8 241.2 L912.3 240.1 L912.7 238.9 L913.1 237.7 L913.5 236.5 L913.9 235.3 L914.3 234.0 L914.8 232.8 L915.2 231.6 L915.6 230.3 L916.0 229.1 L916.4 227.9 L916.8 226.6 L917.2 225.4 L917.6 224.1 L918.1 222.8 L918.5 221.6 L918.9 220.3 L919.3 219.0 L919.7 217.8 L920.1 216.5 L920.6 215.2 L921.0 213.9 L921.4 212.6 L921.8 211.3 L922.3 210.0 L922.7 208.7 L923.1 207.4 L923.6 206.2 L924.0 204.9 L924.4 203.6 L924.9 202.3 L925.3 201.0 L925.8 199.7 L926.2 198.4 L926.7 197.1 L927.2 195.8 L927.6 194.5 L928.1 193.2 L928.6 191.9 L929.1 190.6 L929.5 189.3 L930.0 188.1 L930.5 186.8 L931.0 185.5 L931.5 184.2 L932.0 183.0 L932.6 181.7 L933.1 180.4 L933.6 179.2 L934.1 177.9 L934.7 176.7 L935.2 175.4 L935.8 174.2 L936.3 172.9 L936.9 171.7 L937.5 170.5 L938.0 169.3 L938.6 168.1 L939.2 166.9 L939.8 165.7 L940.4 164.5 L941.0 163.3 L941.7 162.1 L942.3 161.0 L942.9 159.8 L943.6 158.6 L944.2 157.5 L944.9 156.4 L945.6 155.2 L946.3 154.1 L947.0 153.0 L947.7 151.9 L948.4 150.8 L949.1 149.8 L949.8 148.7 L950.6 147.6 L951.3 146.6 L952.1 145.6 L952.9 144.6 L953.6 143.5 L954.4 142.5 L955.2 141.6 L956.1 140.6 L956.9 139.6 L957.7 138.7 L958.6 137.8 L959.4 136.8 L960.3 135.9 L961.2 135.0 L962.1 134.2 L963.0 133.3 L963.9 132.4 L964.9 131.6 L965.8 130.8 L966.8 130.0 L967.8 129.2 L968.7 128.4 L969.7 127.7 L970.8 126.9 L971.8 126.2 L972.8 125.5 L973.9 124.8 L975.0 124.1 L976.0 123.5 L977.1 122.8 L978.2 122.2 L979.3 121.6 L980.5 121.0 L981.6 120.4 L982.7 119.8 L983.9 119.3 L985.1 118.7 L986.3 118.2 L987.4 117.7 L988.6 117.2 L989.8 116.7 L991.1 116.2 L992.3 115.8 L993.5 115.3 L994.8 114.9 L996.0 114.5 L997.3 114.0 L998.5 113.6 L999.8 113.3 L1001.1 112.9 L1002.4 112.5 L1003.7 112.2 L1005.0 111.8 L1006.3 111.5 L1007.6 111.2 L1008.9 110.9 L1010.2 110.6 L1011.6 110.3 L1012.9 110.0 L1014.2 109.7 L1015.6 109.5 L1016.9 109.2 L1018.3 109.0 L1019.6 108.8 L1021.0 108.5 L1022.3 108.3 L1023.7 108.1 L1025.1 107.9 L1026.4 107.7 L1027.8 107.6 L1029.2 107.4 L1030.6 107.2 L1031.9 107.1 L1033.3 106.9 L1034.7 106.8 L1036.1 106.7 L1037.4 106.5 L1038.8 106.4 L1040.2 106.3 L1041.6 106.2 L1042.9 106.1 L1044.3 106.0 L1045.7 105.9 L1047.1 105.8 L1048.4 105.7 L1049.8 105.7 L1051.2 105.6 L1052.5 105.5 L1053.9 105.5 L1055.3 105.4 L1056.6 105.4 L1058.0 105.3 L1059.3 105.3 L1060.7 105.2 L1062.0 105.2 L1063.4 105.2 L1064.7 105.2 L1066.1 105.2 L1067.4 105.1 L1068.8 105.1 L1070.1 105.1 L1071.4 105.1 L1072.8 105.1 L1074.1 105.1 L1075.4 105.1 L1076.8 105.2 L1078.1 105.2 L1079.4 105.2 L1080.7 105.2 L1082.0 105.3 L1083.4 105.3 L1084.7 105.3 L1086.0 105.4 L1087.3 105.4 L1088.6 105.5 L1090.0 105.5 L1091.3 105.6 L1092.6 105.6 L1093.9 105.7 L1095.2 105.8 L1096.5 105.8 L1097.8 105.9 L1099.1 106.0 L1100.4 106.1 L1101.7 106.1 L1103.0 106.2 L1104.3 106.3 L1105.6 106.4 L1106.9 106.5 L1108.2 106.6 L1109.5 106.7 L1110.8 106.8 L1112.1 106.9 L1113.4 107.0 L1114.7 107.1 L1116.0 107.2 L1117.3 107.3 L1118.6 107.4 L1119.9 107.5 L1121.2 107.7 L1122.5 107.8 L1123.7 107.9 L1125.0 108.0 L1126.3 108.2 L1127.6 108.3 L1128.9 108.4 L1130.2 108.5 L1131.5 108.7 L1132.8 108.8 L1134.1 109.0 L1135.4 109.1 L1136.7 109.2 L1137.9 109.4 L1139.2 109.5 L1140.5 109.7 L1141.8 109.8 L1143.1 110.0 L1144.4 110.1 L1145.7 110.3 L1147.0 110.4 L1148.3 110.6 L1149.6 110.7 L1150.9 110.9 L1152.2 111.0 L1153.4 111.2 L1154.7 111.3 L1156.0 111.5 L1157.3 111.7 L1158.6 111.8 L1159.9 112.0 L1161.2 112.1 L1162.5 112.3 L1163.8 112.5 L1165.1 112.6 L1166.4 112.8 L1167.7 112.9 L1169.0 113.1 L1170.3 113.3 L1171.6 113.4 L1172.9 113.6 L1174.2 113.8 L1175.6 113.9 L1176.9 114.1 L1178.2 114.2 L1179.5 114.4 L1180.8 114.6 L1182.1 114.7 L1183.4 114.9 L1184.8 115.1 L1186.1 115.2 L1187.4 115.4 L1188.7 115.5 L1190.0 115.7 L1191.4 115.9 L1192.7 116.0 L1194.0 116.2 L1195.3 116.3 L1196.7 116.5 L1198.0 116.6 L1199.3 116.8 L1200.7 117.0 L1202.0 117.1 L1203.4 117.3 L1204.7 117.4 L1206.1 117.6 L1207.4 117.7 L1208.8 117.8 L1210.1 118.0 L1211.5 118.1 L1212.8 118.3 L1214.2 118.4 L1215.5 118.6 L1216.9 118.7 L1218.3 118.8 L1219.6 119.0 L1221.0 119.1"/>
</g>
<line x1="907.2" y1="255" x2="907.2" y2="440.4" stroke="#fff" stroke-width="2.2"/>
<line x1="907.2" y1="251" x2="907.2" y2="440.4" stroke="#000" stroke-width="2.4" stroke-dasharray="7.5 3"/>
<line x1="916.7" y1="254" x2="916.7" y2="440.4" stroke="#fff" stroke-width="2.2"/>
<line x1="916.7" y1="250" x2="916.7" y2="440.4" stroke="#000" stroke-width="2.4" stroke-dasharray="7.5 3"/>
<line x1="908.9" y1="449.8" x2="918.6" y2="449.8" stroke="#000" stroke-width="2.6"/>
<path d="M899.9 449.8 L909.9 444.3 L909.9 455.3 Z M927.6 449.8 L917.6 444.3 L917.6 455.3 Z" fill="#000"/>
<text x="859" y="473.4" font-family='"Liberation Serif", "Times New Roman", serif' font-weight="bold" font-size="23" fill="#000">&#916;f<tspan font-size="15.6" dy="4.5">r</tspan><tspan dy="-4.5"> &#8776; 80 MHz</tspan></text>
<rect x="713.5" y="66.9" width="507.5" height="414.1" fill="none" stroke="#000" stroke-width="3"/>
<path d="M704.5 66.90H713.5 M709.0 87.61H713.5 M704.5 108.31H713.5 M709.0 129.01H713.5 M704.5 149.72H713.5 M709.0 170.43H713.5 M704.5 191.13H713.5 M709.0 211.83H713.5 M704.5 232.54H713.5 M709.0 253.25H713.5 M704.5 273.95H713.5 M709.0 294.66H713.5 M704.5 315.36H713.5 M709.0 336.06H713.5 M704.5 356.77H713.5 M709.0 377.47H713.5 M704.5 398.18H713.5 M709.0 418.88H713.5 M704.5 439.59H713.5 M709.0 460.30H713.5 M704.5 481.00H713.5 M810.17 481.0V490.0 M931.00 481.0V490.0 M1051.83 481.0V490.0 M1172.67 481.0V490.0 M749.75 481.0V485.5 M870.58 481.0V485.5 M991.42 481.0V485.5 M1112.25 481.0V485.5" stroke="#000" stroke-width="2.6" fill="none"/>
<g font-family='"Liberation Sans", Arial, sans-serif' font-weight="bold" font-size="18.3" fill="#000"><text x="699.7" y="72.20" text-anchor="end">0</text><text x="699.7" y="113.61" text-anchor="end">-5</text><text x="699.7" y="155.02" text-anchor="end">-10</text><text x="699.7" y="196.43" text-anchor="end">-15</text><text x="699.7" y="237.84" text-anchor="end">-20</text><text x="699.7" y="279.25" text-anchor="end">-25</text><text x="699.7" y="320.66" text-anchor="end">-30</text><text x="699.7" y="362.07" text-anchor="end">-35</text><text x="699.7" y="403.48" text-anchor="end">-40</text><text x="699.7" y="444.89" text-anchor="end">-45</text><text x="699.7" y="486.30" text-anchor="end">-50</text><text x="810.17" y="508.2" text-anchor="middle">9</text><text x="931.00" y="508.2" text-anchor="middle">10</text><text x="1051.83" y="508.2" text-anchor="middle">11</text><text x="1172.67" y="508.2" text-anchor="middle">12</text></g>
<text x="967.25" y="548.5" text-anchor="middle" font-family='"Liberation Sans", Arial, sans-serif' font-weight="bold" font-size="22.5">Frequency (GHz)</text>
<text transform="translate(653.3 321.3) rotate(-90)" font-family='"Liberation Sans", Arial, sans-serif' font-weight="bold" font-size="22.5">S<tspan font-size="13.9" dy="5">11</tspan><tspan dy="-5"> (dB)</tspan></text>
<rect x="1024.3" y="295.8" width="185.5" height="169.7" fill="#fff" stroke="#808080" stroke-width="1.6"/>
<text transform="translate(1039.6 324.8) scale(1.04 1)" font-family='"Liberation Sans", Arial, sans-serif' font-weight="bold" font-size="25.5">B = 3mm</text>
<line x1="1038.7" y1="352.8" x2="1082.4" y2="352.8" stroke="#000000" stroke-width="3"/>
<text transform="translate(1089.4 359.1) scale(1.075 1)" font-family='"Liberation Sans", Arial, sans-serif' font-size="25.5">Flat</text>
<line x1="1038.7" y1="386.0" x2="1082.4" y2="386.0" stroke="#ff0000" stroke-width="3"/>
<text transform="translate(1089.4 392.3) scale(1.075 1)" font-family='"Liberation Sans", Arial, sans-serif' font-size="25.5">R=40mm</text>
<line x1="1038.7" y1="419.2" x2="1082.4" y2="419.2" stroke="#0000ff" stroke-width="3"/>
<text transform="translate(1089.4 425.5) scale(1.075 1)" font-family='"Liberation Sans", Arial, sans-serif' font-size="25.5">R=30mm</text>
<line x1="1038.7" y1="452.4" x2="1082.4" y2="452.4" stroke="#008080" stroke-width="3"/>
<text transform="translate(1089.4 458.7) scale(1.075 1)" font-family='"Liberation Sans", Arial, sans-serif' font-size="25.5">R=20mm</text>
<path d="M1331 317.5 L1332.9 307.2 L1338.2 293.5 L1344.3 279.7 L1352 267.5 L1361.1 255.3 L1370 244.6 L1379 235 L1387.8 225.4 L1400.4 215.4 L1413 207.2 L1425.6 200.4 L1451.3 189.9 L1471.8 183.5 L1489.7 182.2 L1528.2 182.2 L1553.8 184.7 L1579.5 192.4 L1590 197.1 L1602.6 202.8 L1615.2 210.4 L1627.8 219.2 L1637.8 228 L1649.1 241.5 L1662.8 256.8 L1673.5 272.1 L1681.9 288.9 L1688 304.2 L1689.7 310 L1690.3 317.5 A184.5 184.5 0 1 1 1331 317.5 Z" fill="#b6fffd" stroke="#2e4a4a" stroke-width="1.5"/>
<path d="M1711.2 313.5 L1710.2 311.8 L1706.4 301.1 L1701 285.9 L1693.4 270.6 L1685.7 255.3 L1676.6 240 L1668 230 L1660 221 L1652.9 215.4 L1640.4 206.6 L1627.8 196.5 L1615.2 188.3 L1602.6 181.4 L1590 175.7 L1566.7 166.8 L1551.3 162.3 L1471.8 162.3 L1466.7 164.2 L1451.3 168.7 L1425.6 177.8 L1413 185.8 L1400.4 192.1 L1387.8 199 L1375.2 209.1 L1362.6 220.4 L1350 232.8 L1342.8 240 L1335.2 255.3 L1327.5 270.6 L1319.9 285.9 L1314.5 301.1 L1310.7 311.8 L1309.5 313.5 L1307.5 317 L1330 319.7 L1331 317.5 L1332.9 307.2 L1338.2 293.5 L1344.3 279.7 L1352 267.5 L1361.1 255.3 L1370 244.6 L1379 235 L1387.8 225.4 L1400.4 215.4 L1413 207.2 L1425.6 200.4 L1451.3 189.9 L1471.8 183.5 L1489.7 182.2 L1528.2 182.2 L1553.8 184.7 L1579.5 192.4 L1590 197.1 L1602.6 202.8 L1615.2 210.4 L1627.8 219.2 L1637.8 228 L1649.1 241.5 L1662.8 256.8 L1673.5 272.1 L1681.9 288.9 L1688 304.2 L1689.7 310 L1690.3 317.5 L1691.5 318.3 L1712.5 314.5 Z" fill="#ffffff"/>
<path d="M1307.5 317 L1306 290 L1304.4 260 L1300.8 232 L1301.1 212.8 L1306 197 L1311.8 182.2 L1324.2 160.3 L1328.6 151.7 L1354.6 121 L1380 100.7 L1390.8 94.3 L1401.6 86.7 L1423.2 75.9 L1444.8 69.4 L1466.4 64 L1488 61.9 L1498.7 60.8 L1512.8 61.3 L1538.8 64.4 L1567.6 72.3 L1596.3 86 L1625.1 104.7 L1650 126.3 L1672.2 150 L1689.3 177.4 L1699.6 204.7 L1704.1 240 L1707.1 270.6 L1711.7 311.8 L1712.5 314 L1711.2 313.5 L1710.2 311.8 L1706.4 301.1 L1701 285.9 L1693.4 270.6 L1685.7 255.3 L1676.6 240 L1668 230 L1660 221 L1652.9 215.4 L1640.4 206.6 L1627.8 196.5 L1615.2 188.3 L1602.6 181.4 L1590 175.7 L1566.7 166.8 L1551.3 162.3 L1471.8 162.3 L1466.7 164.2 L1451.3 168.7 L1425.6 177.8 L1413 185.8 L1400.4 192.1 L1387.8 199 L1375.2 209.1 L1362.6 220.4 L1350 232.8 L1342.8 240 L1335.2 255.3 L1327.5 270.6 L1319.9 285.9 L1314.5 301.1 L1310.7 311.8 L1309.5 313.5 Z" fill="#1c3538" stroke="#000" stroke-width="1.5" stroke-linejoin="round"/>
<path d="M1309.5 313.5 L1310.7 311.8 L1314.5 301.1 L1319.9 285.9 L1327.5 270.6 L1335.2 255.3 L1342.8 240 L1350 232.8 L1362.6 220.4 L1375.2 209.1 L1387.8 199 L1400.4 192.1 L1413 185.8 L1425.6 177.8 L1451.3 168.7 L1466.7 164.2 L1471.8 162.3 L1551.3 162.3 L1566.7 166.8 L1590 175.7 L1602.6 181.4 L1615.2 188.3 L1627.8 196.5 L1640.4 206.6 L1652.9 215.4 L1660 221 L1668 230 L1676.6 240 L1685.7 255.3 L1693.4 270.6 L1701 285.9 L1706.4 301.1 L1710.2 311.8 L1711.2 313.5" fill="none" stroke="#000" stroke-width="2.6" stroke-linejoin="round"/>
<path d="M1309.5 313.5 L1310.7 311.8 L1314.5 301.1 L1319.9 285.9 L1327.5 270.6 L1335.2 255.3 L1342.8 240 L1350 232.8 L1362.6 220.4 L1375.2 209.1 L1387.8 199 L1400.4 192.1 L1413 185.8 L1425.6 177.8 L1451.3 168.7 L1466.7 164.2 L1471.8 162.3 L1551.3 162.3 L1566.7 166.8 L1590 175.7 L1602.6 181.4 L1615.2 188.3 L1627.8 196.5 L1640.4 206.6 L1652.9 215.4 L1660 221 L1668 230 L1676.6 240 L1685.7 255.3 L1693.4 270.6 L1701 285.9 L1706.4 301.1 L1710.2 311.8 L1711.2 313.5" fill="none" stroke="#716c00" stroke-width="1.4" stroke-dasharray="1.6 2.4"/>
<path d="M1331 317.5 L1332.9 307.2 L1338.2 293.5 L1344.3 279.7 L1352 267.5 L1361.1 255.3 L1370 244.6 L1379 235 L1387.8 225.4 L1400.4 215.4 L1413 207.2 L1425.6 200.4 L1451.3 189.9 L1471.8 183.5 L1489.7 182.2 L1528.2 182.2 L1553.8 184.7 L1579.5 192.4 L1590 197.1 L1602.6 202.8 L1615.2 210.4 L1627.8 219.2 L1637.8 228 L1649.1 241.5 L1662.8 256.8 L1673.5 272.1 L1681.9 288.9 L1688 304.2 L1689.7 310 L1690.3 317.5" fill="none" stroke="#000" stroke-width="3.4" stroke-linejoin="round"/>
<path d="M1331 317.5 L1332.9 307.2 L1338.2 293.5 L1344.3 279.7 L1352 267.5 L1361.1 255.3 L1370 244.6 L1379 235 L1387.8 225.4 L1400.4 215.4 L1413 207.2 L1425.6 200.4 L1451.3 189.9 L1471.8 183.5 L1489.7 182.2 L1528.2 182.2 L1553.8 184.7 L1579.5 192.4 L1590 197.1 L1602.6 202.8 L1615.2 210.4 L1627.8 219.2 L1637.8 228 L1649.1 241.5 L1662.8 256.8 L1673.5 272.1 L1681.9 288.9 L1688 304.2 L1689.7 310 L1690.3 317.5" fill="none" stroke="#716c00" stroke-width="1.4" stroke-dasharray="1.6 4"/>
<path d="M1307.5 317 L1330 319.7 M1691.5 318.3 L1712.5 314.5" stroke="#000" stroke-width="1.4"/>
<path d="M1324.5 321 L1331.5 320.5 L1329 333 L1327.6 342 L1325.6 340 Z" fill="#2b4f63"/>
<path d="M1418.8 115.1 L1444.8 106.5 L1466.4 100.2 L1488 98 L1509.5 96.4 L1538.8 98.9 L1567.6 106.1 L1589.5 111.9 L1591.5 137.7 L1573.3 133 L1573.3 123.4 L1551.8 119.8 L1551.8 161.5 L1467 161.5 L1463.5 119.5 L1438.3 126.5 L1438.3 132.8 L1419.8 139.1 Z" fill="#6e6a00" stroke="#000" stroke-width="1.8" stroke-linejoin="round"/>
<circle cx="1434" cy="185.4" r="5.4" fill="#fff" stroke="#222" stroke-width="1.3"/>
<circle cx="1471.2" cy="173.8" r="5.4" fill="#fff" stroke="#222" stroke-width="1.3"/>
<circle cx="1510" cy="170" r="5.4" fill="#fff" stroke="#222" stroke-width="1.3"/>
<circle cx="1549.4" cy="173.2" r="5.4" fill="#fff" stroke="#222" stroke-width="1.3"/>
<circle cx="1586.6" cy="184.6" r="5.4" fill="#fff" stroke="#222" stroke-width="1.3"/>
<path d="M1434.3 191.5 V323 M1471.6 180 V326" stroke="#000" stroke-width="2.2" stroke-dasharray="5.5 3" fill="none"/>
<line x1="1440" y1="331.7" x2="1466" y2="331.7" stroke="#000" stroke-width="2"/>
<path d="M1433.7 331.7 L1441.7 328 L1441.7 335.4 Z M1472 331.7 L1464 328 L1464 335.4 Z" fill="#000"/>
<line x1="1519" y1="343.9" x2="1683" y2="343.9" stroke="#000" stroke-width="3"/>
<path d="M1509.3 343.9 L1521.5 337.8 L1521.5 350 Z M1692.3 343.9 L1680.1 337.8 L1680.1 350 Z" fill="#000"/>
<text x="1448.5" y="357" font-family='"Liberation Serif", "Times New Roman", serif' font-weight="bold" font-size="21.5">B</text>
<text x="1601.5" y="370" font-family='"Liberation Serif", "Times New Roman", serif' font-weight="bold" font-size="21.5">R</text>
</svg>
</body></html>
